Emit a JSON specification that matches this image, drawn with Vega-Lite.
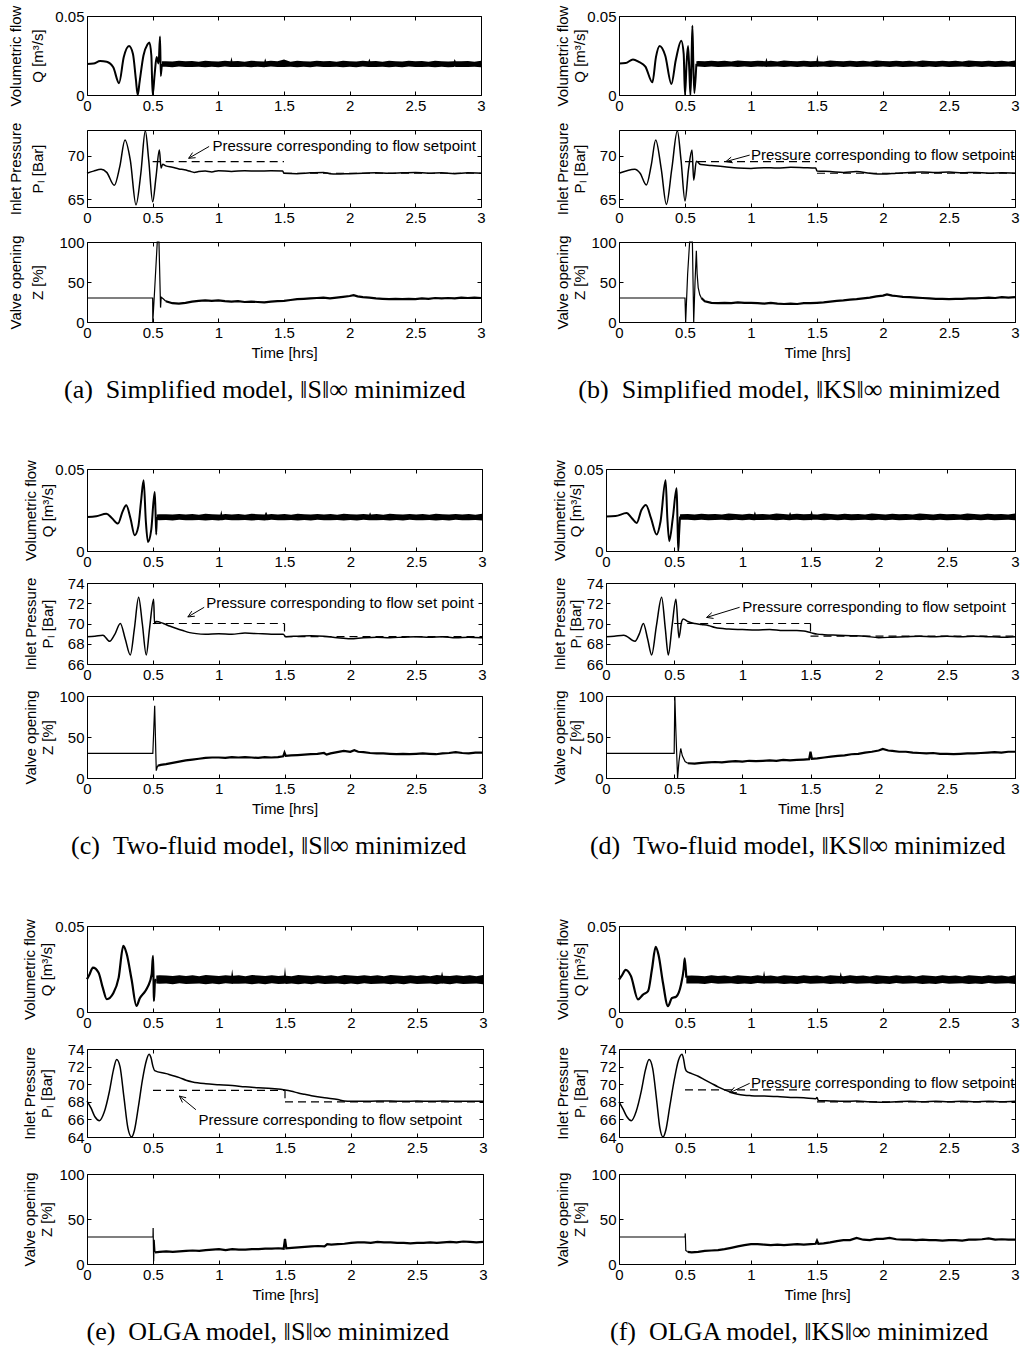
{
"$schema":"https://vega.github.io/schema/vega-lite/v6.json",
"background":"white",
"padding":{"left":7,"top":4,"right":4,"bottom":4},
"data":{"name":"all"},
"config":{
 "view":{"stroke":"black","strokeWidth":1},
 "numberFormat":"~r",
 "axis":{"grid":false,"domain":false,"tickColor":"black","tickSize":-4,"tickWidth":1,"labelFont":"Liberation Sans","labelFontSize":15,"labelColor":"black","labelPadding":7,"labelFlush":false,"labelOverlap":false,"titleFont":"Liberation Sans","titleFontSize":15,"titleFontWeight":"normal","titleColor":"black","titleLineHeight":17,"titlePadding":5},
 "title":{"font":"Liberation Serif","fontSize":26,"fontWeight":"normal","color":"black","orient":"bottom","offset":16,"anchor":"middle"},
 "line":{"color":"black"},
 "area":{"color":"black"},
 "text":{"color":"black","font":"Liberation Sans","fontSize":15}
},
"datasets":{"all":[
{"p":"a1l","t":0,"v":0.0196},{"p":"a1l","t":0.05,"v":0.0199},{"p":"a1l","t":0.1,"v":0.0215},{"p":"a1l","t":0.15,"v":0.021},{"p":"a1l","t":0.2,"v":0.0175},{"p":"a1l","t":0.244,"v":0.0075},{"p":"a1l","t":0.28,"v":0.024},{"p":"a1l","t":0.32,"v":0.031},{"p":"a1l","t":0.35,"v":0.026},{"p":"a1l","t":0.372,"v":0.01},{"p":"a1l","t":0.386,"v":0},{"p":"a1l","t":0.4,"v":0.008},{"p":"a1l","t":0.43,"v":0.025},{"p":"a1l","t":0.46,"v":0.032},{"p":"a1l","t":0.475,"v":0.0333},{"p":"a1l","t":0.49,"v":0.025},{"p":"a1l","t":0.5,"v":0},{"p":"a1l","t":0.515,"v":0.013},{"p":"a1l","t":0.53,"v":0.024},{"p":"a1l","t":0.545,"v":0.02},{"p":"a1l","t":0.556,"v":0.037},{"p":"a1l","t":0.562,"v":0.012},{"p":"a1l","t":0.57,"v":0.0196},
{"p":"a1b","t":0.57,"v":0.0179,"w":0.0213},{"p":"a1b","t":0.6,"v":0.0179,"w":0.0214},{"p":"a1b","t":0.65,"v":0.0176,"w":0.0212},{"p":"a1b","t":0.7,"v":0.018,"w":0.0216},{"p":"a1b","t":0.75,"v":0.0177,"w":0.0213},{"p":"a1b","t":0.8,"v":0.0178,"w":0.0215},{"p":"a1b","t":0.85,"v":0.0179,"w":0.0211},{"p":"a1b","t":0.9,"v":0.0176,"w":0.0217},{"p":"a1b","t":0.95,"v":0.0179,"w":0.0214},{"p":"a1b","t":1.0,"v":0.0176,"w":0.0212},{"p":"a1b","t":1.05,"v":0.018,"w":0.0216},{"p":"a1b","t":1.093,"v":0.0178,"w":0.0213},{"p":"a1b","t":1.1,"v":0.0177,"w":0.024},{"p":"a1b","t":1.107,"v":0.0178,"w":0.0213},{"p":"a1b","t":1.15,"v":0.0178,"w":0.0215},{"p":"a1b","t":1.2,"v":0.0179,"w":0.0211},{"p":"a1b","t":1.25,"v":0.0176,"w":0.0217},{"p":"a1b","t":1.3,"v":0.0179,"w":0.0214},{"p":"a1b","t":1.35,"v":0.0176,"w":0.0212},{"p":"a1b","t":1.357,"v":0.0178,"w":0.0233},{"p":"a1b","t":1.364,"v":0.0178,"w":0.0213},{"p":"a1b","t":1.4,"v":0.018,"w":0.0216},{"p":"a1b","t":1.45,"v":0.0177,"w":0.0213},{"p":"a1b","t":1.5,"v":0.0178,"w":0.0224},{"p":"a1b","t":1.55,"v":0.0179,"w":0.0211},{"p":"a1b","t":1.6,"v":0.0176,"w":0.0217},{"p":"a1b","t":1.65,"v":0.0179,"w":0.0214},{"p":"a1b","t":1.7,"v":0.0176,"w":0.0212},{"p":"a1b","t":1.75,"v":0.018,"w":0.0216},{"p":"a1b","t":1.8,"v":0.0177,"w":0.0213},{"p":"a1b","t":1.85,"v":0.0178,"w":0.0215},{"p":"a1b","t":1.9,"v":0.0179,"w":0.0211},{"p":"a1b","t":1.95,"v":0.0176,"w":0.0217},{"p":"a1b","t":2.0,"v":0.0179,"w":0.0214},{"p":"a1b","t":2.05,"v":0.0176,"w":0.0212},{"p":"a1b","t":2.1,"v":0.018,"w":0.0216},{"p":"a1b","t":2.143,"v":0.0177,"w":0.0213},{"p":"a1b","t":2.15,"v":0.0177,"w":0.0231},{"p":"a1b","t":2.157,"v":0.0178,"w":0.0213},{"p":"a1b","t":2.2,"v":0.0178,"w":0.0215},{"p":"a1b","t":2.25,"v":0.0179,"w":0.0211},{"p":"a1b","t":2.3,"v":0.0176,"w":0.0217},{"p":"a1b","t":2.35,"v":0.0179,"w":0.0214},{"p":"a1b","t":2.4,"v":0.0176,"w":0.0212},{"p":"a1b","t":2.45,"v":0.018,"w":0.0216},{"p":"a1b","t":2.5,"v":0.0177,"w":0.0213},{"p":"a1b","t":2.55,"v":0.0178,"w":0.0215},{"p":"a1b","t":2.6,"v":0.0179,"w":0.0211},{"p":"a1b","t":2.65,"v":0.0176,"w":0.0217},{"p":"a1b","t":2.7,"v":0.0179,"w":0.0214},{"p":"a1b","t":2.75,"v":0.0176,"w":0.0212},{"p":"a1b","t":2.793,"v":0.0178,"w":0.0214},{"p":"a1b","t":2.8,"v":0.018,"w":0.0228},{"p":"a1b","t":2.807,"v":0.0178,"w":0.0213},{"p":"a1b","t":2.85,"v":0.0177,"w":0.0213},{"p":"a1b","t":2.9,"v":0.0178,"w":0.0215},{"p":"a1b","t":2.95,"v":0.0179,"w":0.0211},{"p":"a1b","t":3.0,"v":0.0176,"w":0.0217},
{"p":"a2l","t":0,"v":68.0},{"p":"a2l","t":0.05,"v":68.25},{"p":"a2l","t":0.107,"v":68.46},{"p":"a2l","t":0.15,"v":68.1},{"p":"a2l","t":0.208,"v":66.6},{"p":"a2l","t":0.25,"v":68.8},{"p":"a2l","t":0.289,"v":71.85},{"p":"a2l","t":0.33,"v":69.5},{"p":"a2l","t":0.373,"v":64.35},{"p":"a2l","t":0.41,"v":68.0},{"p":"a2l","t":0.444,"v":72.9},{"p":"a2l","t":0.47,"v":69.5},{"p":"a2l","t":0.5,"v":64.7},{"p":"a2l","t":0.525,"v":67.5},{"p":"a2l","t":0.551,"v":70.7},{"p":"a2l","t":0.564,"v":68.6},{"p":"a2l","t":0.576,"v":69.05},{"p":"a2l","t":0.6,"v":68.85},{"p":"a2l","t":0.65,"v":68.7},{"p":"a2l","t":0.7,"v":68.5},{"p":"a2l","t":0.741,"v":68.4},{"p":"a2l","t":0.78,"v":68.25},{"p":"a2l","t":0.817,"v":68.1},{"p":"a2l","t":0.85,"v":68.2},{"p":"a2l","t":0.9,"v":68.25},{"p":"a2l","t":0.95,"v":68.15},{"p":"a2l","t":1.0,"v":68.3},{"p":"a2l","t":1.1,"v":68.2},{"p":"a2l","t":1.2,"v":68.3},{"p":"a2l","t":1.3,"v":68.25},{"p":"a2l","t":1.4,"v":68.3},{"p":"a2l","t":1.49,"v":68.25},{"p":"a2l","t":1.5,"v":68.0},{"p":"a2l","t":1.6,"v":67.95},{"p":"a2l","t":1.7,"v":68.05},{"p":"a2l","t":1.8,"v":68.1},{"p":"a2l","t":1.85,"v":67.95},{"p":"a2l","t":1.9,"v":67.9},{"p":"a2l","t":2.0,"v":67.95},{"p":"a2l","t":2.1,"v":68.0},{"p":"a2l","t":2.2,"v":68.05},{"p":"a2l","t":2.3,"v":68.0},{"p":"a2l","t":2.4,"v":68.05},{"p":"a2l","t":2.5,"v":68.1},{"p":"a2l","t":2.6,"v":68.0},{"p":"a2l","t":2.7,"v":68.05},{"p":"a2l","t":2.8,"v":67.95},{"p":"a2l","t":2.9,"v":68.05},{"p":"a2l","t":3.0,"v":68.0},
{"p":"a2d","g":1,"t":0.5,"v":69.35},{"p":"a2d","g":1,"t":1.5,"v":69.35},{"p":"a2d","g":2,"t":1.5,"v":68.0},{"p":"a2d","g":2,"t":3,"v":68.0},
{"p":"a2a","g":1,"t":0.774,"v":69.73},{"p":"a2a","g":1,"t":0.93,"v":71.1},{"p":"a2a","g":2,"t":0.774,"v":69.73},{"p":"a2a","g":2,"t":0.804,"v":70.39},{"p":"a2a","g":3,"t":0.774,"v":69.73},{"p":"a2a","g":3,"t":0.827,"v":69.8},
{"p":"a2x","t":0.955,"v":71.1,"s":"Pressure corresponding to flow setpoint"},
{"p":"a3l","t":0,"v":30},{"p":"a3l","t":0.5,"v":30},{"p":"a3l","t":0.501,"v":0},{"p":"a3l","t":0.515,"v":40},{"p":"a3l","t":0.535,"v":100},{"p":"a3l","t":0.548,"v":100},{"p":"a3l","t":0.56,"v":18},{"p":"a3l","t":0.565,"v":31},{"p":"a3l","t":0.58,"v":29},{"p":"a3l","t":0.6,"v":26},
{"p":"a3n","t":0.6,"v":26},{"p":"a3n","t":0.65,"v":23.5},{"p":"a3n","t":0.7,"v":23},{"p":"a3n","t":0.75,"v":24},{"p":"a3n","t":0.8,"v":25.5},{"p":"a3n","t":0.85,"v":26.5},{"p":"a3n","t":0.9,"v":27},{"p":"a3n","t":0.95,"v":26.5},{"p":"a3n","t":1.0,"v":27},{"p":"a3n","t":1.05,"v":26},{"p":"a3n","t":1.1,"v":25.5},{"p":"a3n","t":1.15,"v":26},{"p":"a3n","t":1.2,"v":25},{"p":"a3n","t":1.25,"v":25.5},{"p":"a3n","t":1.3,"v":25},{"p":"a3n","t":1.35,"v":24.5},{"p":"a3n","t":1.4,"v":25.5},{"p":"a3n","t":1.45,"v":26},{"p":"a3n","t":1.5,"v":26.5},{"p":"a3n","t":1.55,"v":27.5},{"p":"a3n","t":1.6,"v":28.5},{"p":"a3n","t":1.65,"v":29},{"p":"a3n","t":1.7,"v":29.5},{"p":"a3n","t":1.75,"v":30},{"p":"a3n","t":1.8,"v":30.5},{"p":"a3n","t":1.85,"v":29.5},{"p":"a3n","t":1.9,"v":30.5},{"p":"a3n","t":1.95,"v":31.5},{"p":"a3n","t":2.0,"v":32.5},{"p":"a3n","t":2.03,"v":33.5},{"p":"a3n","t":2.06,"v":32},{"p":"a3n","t":2.1,"v":31},{"p":"a3n","t":2.15,"v":30.5},{"p":"a3n","t":2.2,"v":29.5},{"p":"a3n","t":2.25,"v":29},{"p":"a3n","t":2.3,"v":28.5},{"p":"a3n","t":2.35,"v":29},{"p":"a3n","t":2.4,"v":28.5},{"p":"a3n","t":2.45,"v":29},{"p":"a3n","t":2.5,"v":28.5},{"p":"a3n","t":2.55,"v":29.5},{"p":"a3n","t":2.6,"v":29},{"p":"a3n","t":2.65,"v":30},{"p":"a3n","t":2.7,"v":29.5},{"p":"a3n","t":2.75,"v":30},{"p":"a3n","t":2.8,"v":29.5},{"p":"a3n","t":2.85,"v":30.5},{"p":"a3n","t":2.9,"v":30},{"p":"a3n","t":2.95,"v":30.5},{"p":"a3n","t":3.0,"v":30},
{"p":"b1l","t":0,"v":0.02},{"p":"b1l","t":0.05,"v":0.0202},{"p":"b1l","t":0.106,"v":0.0225},{"p":"b1l","t":0.15,"v":0.021},{"p":"b1l","t":0.2,"v":0.018},{"p":"b1l","t":0.253,"v":0.008},{"p":"b1l","t":0.28,"v":0.024},{"p":"b1l","t":0.308,"v":0.031},{"p":"b1l","t":0.35,"v":0.025},{"p":"b1l","t":0.397,"v":0.007},{"p":"b1l","t":0.43,"v":0.022},{"p":"b1l","t":0.472,"v":0.0344},{"p":"b1l","t":0.49,"v":0.026},{"p":"b1l","t":0.5,"v":0},{"p":"b1l","t":0.512,"v":0.02},{"p":"b1l","t":0.523,"v":0.031},{"p":"b1l","t":0.533,"v":0.015},{"p":"b1l","t":0.541,"v":0},{"p":"b1l","t":0.549,"v":0.02},{"p":"b1l","t":0.556,"v":0.0439},{"p":"b1l","t":0.563,"v":0.02},{"p":"b1l","t":0.571,"v":0.0013},{"p":"b1l","t":0.586,"v":0.0197},
{"p":"b1b","t":0.586,"v":0.018,"w":0.0214},{"p":"b1b","t":0.6,"v":0.018,"w":0.0215},{"p":"b1b","t":0.65,"v":0.0177,"w":0.0213},{"p":"b1b","t":0.7,"v":0.0181,"w":0.0217},{"p":"b1b","t":0.75,"v":0.0178,"w":0.0214},{"p":"b1b","t":0.8,"v":0.0179,"w":0.0216},{"p":"b1b","t":0.85,"v":0.018,"w":0.0212},{"p":"b1b","t":0.9,"v":0.0177,"w":0.0218},{"p":"b1b","t":0.95,"v":0.018,"w":0.0215},{"p":"b1b","t":1.0,"v":0.0177,"w":0.0213},{"p":"b1b","t":1.05,"v":0.0181,"w":0.0217},{"p":"b1b","t":1.11,"v":0.0179,"w":0.0214},{"p":"b1b","t":1.117,"v":0.0178,"w":0.0236},{"p":"b1b","t":1.124,"v":0.0179,"w":0.0214},{"p":"b1b","t":1.15,"v":0.0179,"w":0.0216},{"p":"b1b","t":1.2,"v":0.018,"w":0.0212},{"p":"b1b","t":1.25,"v":0.0177,"w":0.0218},{"p":"b1b","t":1.3,"v":0.018,"w":0.0215},{"p":"b1b","t":1.35,"v":0.0177,"w":0.0213},{"p":"b1b","t":1.4,"v":0.0181,"w":0.0217},{"p":"b1b","t":1.45,"v":0.0178,"w":0.0214},{"p":"b1b","t":1.496,"v":0.0179,"w":0.0215},{"p":"b1b","t":1.503,"v":0.0178,"w":0.0255},{"p":"b1b","t":1.51,"v":0.0179,"w":0.0214},{"p":"b1b","t":1.55,"v":0.018,"w":0.0212},{"p":"b1b","t":1.6,"v":0.0177,"w":0.0218},{"p":"b1b","t":1.65,"v":0.018,"w":0.0215},{"p":"b1b","t":1.7,"v":0.0177,"w":0.0213},{"p":"b1b","t":1.75,"v":0.0181,"w":0.0217},{"p":"b1b","t":1.8,"v":0.0178,"w":0.0214},{"p":"b1b","t":1.85,"v":0.0179,"w":0.0216},{"p":"b1b","t":1.9,"v":0.018,"w":0.0212},{"p":"b1b","t":1.95,"v":0.0177,"w":0.0218},{"p":"b1b","t":2.0,"v":0.018,"w":0.0215},{"p":"b1b","t":2.05,"v":0.0177,"w":0.0213},{"p":"b1b","t":2.1,"v":0.0181,"w":0.0217},{"p":"b1b","t":2.15,"v":0.0178,"w":0.0214},{"p":"b1b","t":2.2,"v":0.0179,"w":0.0216},{"p":"b1b","t":2.25,"v":0.018,"w":0.0212},{"p":"b1b","t":2.3,"v":0.0177,"w":0.0218},{"p":"b1b","t":2.35,"v":0.018,"w":0.0215},{"p":"b1b","t":2.4,"v":0.0177,"w":0.0213},{"p":"b1b","t":2.45,"v":0.0181,"w":0.0217},{"p":"b1b","t":2.5,"v":0.0178,"w":0.0214},{"p":"b1b","t":2.55,"v":0.0179,"w":0.0216},{"p":"b1b","t":2.6,"v":0.018,"w":0.0212},{"p":"b1b","t":2.65,"v":0.0177,"w":0.0218},{"p":"b1b","t":2.7,"v":0.018,"w":0.0215},{"p":"b1b","t":2.75,"v":0.0177,"w":0.0213},{"p":"b1b","t":2.8,"v":0.0181,"w":0.0217},{"p":"b1b","t":2.85,"v":0.0178,"w":0.0214},{"p":"b1b","t":2.9,"v":0.0179,"w":0.0216},{"p":"b1b","t":2.95,"v":0.018,"w":0.0212},{"p":"b1b","t":3.0,"v":0.0177,"w":0.0218},
{"p":"b2l","t":0,"v":68.0},{"p":"b2l","t":0.06,"v":68.3},{"p":"b2l","t":0.119,"v":68.46},{"p":"b2l","t":0.16,"v":68.0},{"p":"b2l","t":0.207,"v":66.65},{"p":"b2l","t":0.245,"v":69.0},{"p":"b2l","t":0.278,"v":71.85},{"p":"b2l","t":0.32,"v":68.5},{"p":"b2l","t":0.359,"v":64.4},{"p":"b2l","t":0.4,"v":68.5},{"p":"b2l","t":0.442,"v":72.9},{"p":"b2l","t":0.47,"v":69.5},{"p":"b2l","t":0.5,"v":64.8},{"p":"b2l","t":0.527,"v":68.5},{"p":"b2l","t":0.553,"v":70.7},{"p":"b2l","t":0.566,"v":67.2},{"p":"b2l","t":0.586,"v":69.4},{"p":"b2l","t":0.62,"v":69.0},{"p":"b2l","t":0.7,"v":68.9},{"p":"b2l","t":0.8,"v":68.75},{"p":"b2l","t":0.9,"v":68.6},{"p":"b2l","t":1.0,"v":68.55},{"p":"b2l","t":1.1,"v":68.65},{"p":"b2l","t":1.2,"v":68.6},{"p":"b2l","t":1.3,"v":68.7},{"p":"b2l","t":1.4,"v":68.65},{"p":"b2l","t":1.49,"v":68.6},{"p":"b2l","t":1.5,"v":68.25},{"p":"b2l","t":1.6,"v":68.2},{"p":"b2l","t":1.7,"v":68.1},{"p":"b2l","t":1.8,"v":68.2},{"p":"b2l","t":1.9,"v":68.0},{"p":"b2l","t":2.0,"v":67.9},{"p":"b2l","t":2.1,"v":68.0},{"p":"b2l","t":2.2,"v":68.1},{"p":"b2l","t":2.3,"v":68.15},{"p":"b2l","t":2.4,"v":68.1},{"p":"b2l","t":2.5,"v":68.15},{"p":"b2l","t":2.6,"v":68.05},{"p":"b2l","t":2.7,"v":68.1},{"p":"b2l","t":2.8,"v":68.0},{"p":"b2l","t":2.9,"v":68.05},{"p":"b2l","t":3.0,"v":68.0},
{"p":"b2d","g":1,"t":0.5,"v":69.35},{"p":"b2d","g":1,"t":1.5,"v":69.35},{"p":"b2d","g":2,"t":1.5,"v":68.0},{"p":"b2d","g":2,"t":3,"v":68.0},
{"p":"b2a","g":1,"t":0.81,"v":69.35},{"p":"b2a","g":1,"t":0.99,"v":70.1},{"p":"b2a","g":2,"t":0.81,"v":69.35},{"p":"b2a","g":2,"t":0.85,"v":69.87},{"p":"b2a","g":3,"t":0.81,"v":69.35},{"p":"b2a","g":3,"t":0.862,"v":69.21},
{"p":"b2x","t":1.0,"v":70.15,"s":"Pressure corresponding to flow setpoint"},
{"p":"b3l","t":0,"v":30},{"p":"b3l","t":0.5,"v":30},{"p":"b3l","t":0.505,"v":0},{"p":"b3l","t":0.52,"v":60},{"p":"b3l","t":0.535,"v":100},{"p":"b3l","t":0.556,"v":100},{"p":"b3l","t":0.566,"v":0},{"p":"b3l","t":0.576,"v":50},{"p":"b3l","t":0.586,"v":89},{"p":"b3l","t":0.592,"v":60},{"p":"b3l","t":0.6,"v":43},{"p":"b3l","t":0.612,"v":34},{"p":"b3l","t":0.624,"v":30},
{"p":"b3n","t":0.624,"v":30},{"p":"b3n","t":0.65,"v":26},{"p":"b3n","t":0.7,"v":24},{"p":"b3n","t":0.75,"v":23.5},{"p":"b3n","t":0.8,"v":24},{"p":"b3n","t":0.85,"v":23.5},{"p":"b3n","t":0.9,"v":24.5},{"p":"b3n","t":0.95,"v":24},{"p":"b3n","t":1.0,"v":24},{"p":"b3n","t":1.05,"v":23.5},{"p":"b3n","t":1.1,"v":23},{"p":"b3n","t":1.15,"v":24},{"p":"b3n","t":1.2,"v":23},{"p":"b3n","t":1.25,"v":22.5},{"p":"b3n","t":1.3,"v":23},{"p":"b3n","t":1.35,"v":22.5},{"p":"b3n","t":1.4,"v":23.5},{"p":"b3n","t":1.45,"v":23.5},{"p":"b3n","t":1.5,"v":24},{"p":"b3n","t":1.55,"v":24.5},{"p":"b3n","t":1.6,"v":25.5},{"p":"b3n","t":1.65,"v":26.5},{"p":"b3n","t":1.7,"v":27},{"p":"b3n","t":1.75,"v":28},{"p":"b3n","t":1.8,"v":28.5},{"p":"b3n","t":1.85,"v":29.5},{"p":"b3n","t":1.9,"v":30.5},{"p":"b3n","t":1.95,"v":32},{"p":"b3n","t":2.0,"v":33},{"p":"b3n","t":2.03,"v":34.5},{"p":"b3n","t":2.07,"v":33},{"p":"b3n","t":2.1,"v":32.5},{"p":"b3n","t":2.15,"v":31.5},{"p":"b3n","t":2.2,"v":31},{"p":"b3n","t":2.25,"v":30.5},{"p":"b3n","t":2.3,"v":30},{"p":"b3n","t":2.35,"v":29.5},{"p":"b3n","t":2.4,"v":29},{"p":"b3n","t":2.45,"v":29},{"p":"b3n","t":2.5,"v":28.5},{"p":"b3n","t":2.55,"v":29},{"p":"b3n","t":2.6,"v":29},{"p":"b3n","t":2.65,"v":29.5},{"p":"b3n","t":2.7,"v":29.5},{"p":"b3n","t":2.75,"v":30},{"p":"b3n","t":2.8,"v":30.5},{"p":"b3n","t":2.85,"v":30},{"p":"b3n","t":2.9,"v":31},{"p":"b3n","t":2.95,"v":30.5},{"p":"b3n","t":3.0,"v":31},
{"p":"c1l","t":0,"v":0.0207},{"p":"c1l","t":0.07,"v":0.0212},{"p":"c1l","t":0.147,"v":0.0227},{"p":"c1l","t":0.19,"v":0.02},{"p":"c1l","t":0.235,"v":0.0167},{"p":"c1l","t":0.27,"v":0.024},{"p":"c1l","t":0.298,"v":0.0279},{"p":"c1l","t":0.33,"v":0.02},{"p":"c1l","t":0.362,"v":0.0096},{"p":"c1l","t":0.39,"v":0.015},{"p":"c1l","t":0.41,"v":0.03},{"p":"c1l","t":0.43,"v":0.0431},{"p":"c1l","t":0.447,"v":0.018},{"p":"c1l","t":0.463,"v":0.0055},{"p":"c1l","t":0.488,"v":0.013},{"p":"c1l","t":0.514,"v":0.036},{"p":"c1l","t":0.52,"v":0.025},{"p":"c1l","t":0.526,"v":0.01},{"p":"c1l","t":0.53,"v":0.0207},
{"p":"c1b","t":0.53,"v":0.0189,"w":0.0223},{"p":"c1b","t":0.55,"v":0.0188,"w":0.0224},{"p":"c1b","t":0.6,"v":0.0189,"w":0.0224},{"p":"c1b","t":0.65,"v":0.0186,"w":0.0222},{"p":"c1b","t":0.7,"v":0.019,"w":0.0226},{"p":"c1b","t":0.75,"v":0.0187,"w":0.0223},{"p":"c1b","t":0.8,"v":0.0188,"w":0.0225},{"p":"c1b","t":0.85,"v":0.0189,"w":0.0221},{"p":"c1b","t":0.9,"v":0.0186,"w":0.0227},{"p":"c1b","t":0.95,"v":0.0189,"w":0.0224},{"p":"c1b","t":1.0,"v":0.0186,"w":0.0222},{"p":"c1b","t":1.013,"v":0.0188,"w":0.0223},{"p":"c1b","t":1.02,"v":0.0187,"w":0.0248},{"p":"c1b","t":1.027,"v":0.0188,"w":0.0223},{"p":"c1b","t":1.05,"v":0.019,"w":0.0226},{"p":"c1b","t":1.1,"v":0.0187,"w":0.0223},{"p":"c1b","t":1.15,"v":0.0188,"w":0.0225},{"p":"c1b","t":1.2,"v":0.0189,"w":0.0221},{"p":"c1b","t":1.25,"v":0.0186,"w":0.0227},{"p":"c1b","t":1.3,"v":0.0189,"w":0.0224},{"p":"c1b","t":1.35,"v":0.0186,"w":0.0222},{"p":"c1b","t":1.36,"v":0.0187,"w":0.024},{"p":"c1b","t":1.37,"v":0.0188,"w":0.0223},{"p":"c1b","t":1.4,"v":0.019,"w":0.0226},{"p":"c1b","t":1.45,"v":0.0187,"w":0.0223},{"p":"c1b","t":1.5,"v":0.0188,"w":0.0225},{"p":"c1b","t":1.55,"v":0.0189,"w":0.0221},{"p":"c1b","t":1.6,"v":0.0186,"w":0.0227},{"p":"c1b","t":1.65,"v":0.0189,"w":0.0224},{"p":"c1b","t":1.7,"v":0.0186,"w":0.0222},{"p":"c1b","t":1.75,"v":0.019,"w":0.0226},{"p":"c1b","t":1.8,"v":0.0187,"w":0.0223},{"p":"c1b","t":1.85,"v":0.0188,"w":0.0225},{"p":"c1b","t":1.9,"v":0.0189,"w":0.0221},{"p":"c1b","t":1.95,"v":0.0186,"w":0.0227},{"p":"c1b","t":2.0,"v":0.0189,"w":0.0224},{"p":"c1b","t":2.05,"v":0.0186,"w":0.0222},{"p":"c1b","t":2.1,"v":0.019,"w":0.0226},{"p":"c1b","t":2.143,"v":0.0187,"w":0.0223},{"p":"c1b","t":2.15,"v":0.0187,"w":0.0236},{"p":"c1b","t":2.157,"v":0.0188,"w":0.0223},{"p":"c1b","t":2.2,"v":0.0188,"w":0.0225},{"p":"c1b","t":2.25,"v":0.0189,"w":0.0221},{"p":"c1b","t":2.3,"v":0.0186,"w":0.0227},{"p":"c1b","t":2.35,"v":0.0189,"w":0.0224},{"p":"c1b","t":2.4,"v":0.0186,"w":0.0222},{"p":"c1b","t":2.45,"v":0.019,"w":0.0226},{"p":"c1b","t":2.5,"v":0.0187,"w":0.0223},{"p":"c1b","t":2.55,"v":0.0188,"w":0.0225},{"p":"c1b","t":2.6,"v":0.0189,"w":0.0221},{"p":"c1b","t":2.65,"v":0.0186,"w":0.0227},{"p":"c1b","t":2.7,"v":0.0189,"w":0.0224},{"p":"c1b","t":2.75,"v":0.0186,"w":0.0222},{"p":"c1b","t":2.8,"v":0.019,"w":0.0226},{"p":"c1b","t":2.85,"v":0.0187,"w":0.0223},{"p":"c1b","t":2.9,"v":0.0188,"w":0.0225},{"p":"c1b","t":2.95,"v":0.0189,"w":0.0221},{"p":"c1b","t":3.0,"v":0.0186,"w":0.0227},
{"p":"c2l","t":0,"v":68.7},{"p":"c2l","t":0.06,"v":68.75},{"p":"c2l","t":0.121,"v":68.85},{"p":"c2l","t":0.172,"v":68.25},{"p":"c2l","t":0.21,"v":68.9},{"p":"c2l","t":0.253,"v":70.0},{"p":"c2l","t":0.29,"v":68.5},{"p":"c2l","t":0.329,"v":66.9},{"p":"c2l","t":0.36,"v":69.5},{"p":"c2l","t":0.392,"v":72.6},{"p":"c2l","t":0.42,"v":70.0},{"p":"c2l","t":0.45,"v":66.9},{"p":"c2l","t":0.475,"v":69.5},{"p":"c2l","t":0.506,"v":72.4},{"p":"c2l","t":0.513,"v":70.0},{"p":"c2l","t":0.526,"v":70.2},{"p":"c2l","t":0.58,"v":70.0},{"p":"c2l","t":0.627,"v":69.75},{"p":"c2l","t":0.68,"v":69.5},{"p":"c2l","t":0.728,"v":69.3},{"p":"c2l","t":0.78,"v":69.1},{"p":"c2l","t":0.83,"v":69.0},{"p":"c2l","t":0.9,"v":68.95},{"p":"c2l","t":1.0,"v":69.0},{"p":"c2l","t":1.1,"v":68.95},{"p":"c2l","t":1.2,"v":69.05},{"p":"c2l","t":1.3,"v":69.0},{"p":"c2l","t":1.4,"v":68.95},{"p":"c2l","t":1.49,"v":68.95},{"p":"c2l","t":1.51,"v":68.7},{"p":"c2l","t":1.6,"v":68.75},{"p":"c2l","t":1.7,"v":68.8},{"p":"c2l","t":1.8,"v":68.75},{"p":"c2l","t":1.9,"v":68.6},{"p":"c2l","t":2.0,"v":68.5},{"p":"c2l","t":2.1,"v":68.6},{"p":"c2l","t":2.2,"v":68.65},{"p":"c2l","t":2.3,"v":68.6},{"p":"c2l","t":2.4,"v":68.65},{"p":"c2l","t":2.5,"v":68.7},{"p":"c2l","t":2.6,"v":68.65},{"p":"c2l","t":2.7,"v":68.7},{"p":"c2l","t":2.8,"v":68.6},{"p":"c2l","t":2.9,"v":68.65},{"p":"c2l","t":3.0,"v":68.6},
{"p":"c2d","g":1,"t":0.5,"v":70},{"p":"c2d","g":1,"t":1.5,"v":70},{"p":"c2d","g":2,"t":1.5,"v":70},{"p":"c2d","g":2,"t":1.5,"v":68.7},{"p":"c2d","g":3,"t":1.5,"v":68.7},{"p":"c2d","g":3,"t":3,"v":68.7},
{"p":"c2a","g":1,"t":0.766,"v":70.65},{"p":"c2a","g":1,"t":0.89,"v":71.6},{"p":"c2a","g":2,"t":0.766,"v":70.65},{"p":"c2a","g":2,"t":0.796,"v":71.22},{"p":"c2a","g":3,"t":0.766,"v":70.65},{"p":"c2a","g":3,"t":0.819,"v":70.72},
{"p":"c2x","t":0.905,"v":72.0,"s":"Pressure corresponding to flow set point"},
{"p":"c3l","t":0,"v":30},{"p":"c3l","t":0.5,"v":30},{"p":"c3l","t":0.514,"v":88},{"p":"c3l","t":0.526,"v":9},{"p":"c3l","t":0.537,"v":15},
{"p":"c3n","t":0.537,"v":15},{"p":"c3n","t":0.56,"v":16},{"p":"c3n","t":0.6,"v":17},{"p":"c3n","t":0.65,"v":18.5},{"p":"c3n","t":0.7,"v":20},{"p":"c3n","t":0.75,"v":21.5},{"p":"c3n","t":0.8,"v":22.5},{"p":"c3n","t":0.85,"v":23.5},{"p":"c3n","t":0.9,"v":24.5},{"p":"c3n","t":0.95,"v":25},{"p":"c3n","t":1.0,"v":25},{"p":"c3n","t":1.05,"v":24.5},{"p":"c3n","t":1.1,"v":25.5},{"p":"c3n","t":1.15,"v":25},{"p":"c3n","t":1.2,"v":25.5},{"p":"c3n","t":1.25,"v":25},{"p":"c3n","t":1.3,"v":24.5},{"p":"c3n","t":1.35,"v":25.5},{"p":"c3n","t":1.4,"v":25},{"p":"c3n","t":1.45,"v":25.5},{"p":"c3n","t":1.49,"v":26.5},{"p":"c3n","t":1.5,"v":31},{"p":"c3n","t":1.51,"v":27},{"p":"c3n","t":1.55,"v":27.5},{"p":"c3n","t":1.6,"v":28},{"p":"c3n","t":1.65,"v":28.5},{"p":"c3n","t":1.7,"v":29},{"p":"c3n","t":1.75,"v":29.5},{"p":"c3n","t":1.8,"v":30.5},{"p":"c3n","t":1.82,"v":28.5},{"p":"c3n","t":1.85,"v":30},{"p":"c3n","t":1.9,"v":31.5},{"p":"c3n","t":1.95,"v":33},{"p":"c3n","t":2.0,"v":32},{"p":"c3n","t":2.03,"v":34},{"p":"c3n","t":2.06,"v":32},{"p":"c3n","t":2.1,"v":31.5},{"p":"c3n","t":2.15,"v":30.5},{"p":"c3n","t":2.2,"v":30},{"p":"c3n","t":2.25,"v":30},{"p":"c3n","t":2.3,"v":29.5},{"p":"c3n","t":2.35,"v":29},{"p":"c3n","t":2.4,"v":29.5},{"p":"c3n","t":2.45,"v":29},{"p":"c3n","t":2.5,"v":29.5},{"p":"c3n","t":2.55,"v":30},{"p":"c3n","t":2.6,"v":29.5},{"p":"c3n","t":2.65,"v":29},{"p":"c3n","t":2.7,"v":30},{"p":"c3n","t":2.75,"v":30.5},{"p":"c3n","t":2.8,"v":31.5},{"p":"c3n","t":2.85,"v":30.5},{"p":"c3n","t":2.9,"v":30},{"p":"c3n","t":2.95,"v":31},{"p":"c3n","t":3.0,"v":31},
{"p":"d1l","t":0,"v":0.0211},{"p":"d1l","t":0.07,"v":0.0213},{"p":"d1l","t":0.151,"v":0.0231},{"p":"d1l","t":0.19,"v":0.02},{"p":"d1l","t":0.225,"v":0.0171},{"p":"d1l","t":0.26,"v":0.025},{"p":"d1l","t":0.293,"v":0.0281},{"p":"d1l","t":0.33,"v":0.02},{"p":"d1l","t":0.371,"v":0.01},{"p":"d1l","t":0.4,"v":0.018},{"p":"d1l","t":0.437,"v":0.0431},{"p":"d1l","t":0.45,"v":0.02},{"p":"d1l","t":0.464,"v":0.006},{"p":"d1l","t":0.49,"v":0.02},{"p":"d1l","t":0.518,"v":0.0382},{"p":"d1l","t":0.524,"v":0.02},{"p":"d1l","t":0.53,"v":0},{"p":"d1l","t":0.536,"v":0.01},{"p":"d1l","t":0.543,"v":0.021},
{"p":"d1b","t":0.543,"v":0.019,"w":0.0224},{"p":"d1b","t":0.6,"v":0.019,"w":0.0225},{"p":"d1b","t":0.65,"v":0.0187,"w":0.0223},{"p":"d1b","t":0.7,"v":0.0191,"w":0.0227},{"p":"d1b","t":0.75,"v":0.0188,"w":0.0224},{"p":"d1b","t":0.8,"v":0.0189,"w":0.0226},{"p":"d1b","t":0.85,"v":0.019,"w":0.0222},{"p":"d1b","t":0.9,"v":0.0187,"w":0.0228},{"p":"d1b","t":0.95,"v":0.019,"w":0.0225},{"p":"d1b","t":1.0,"v":0.0187,"w":0.0223},{"p":"d1b","t":1.05,"v":0.0191,"w":0.0227},{"p":"d1b","t":1.085,"v":0.0188,"w":0.0224},{"p":"d1b","t":1.092,"v":0.0188,"w":0.0242},{"p":"d1b","t":1.099,"v":0.0189,"w":0.0224},{"p":"d1b","t":1.15,"v":0.0189,"w":0.0226},{"p":"d1b","t":1.2,"v":0.019,"w":0.0222},{"p":"d1b","t":1.25,"v":0.0187,"w":0.0228},{"p":"d1b","t":1.3,"v":0.019,"w":0.0225},{"p":"d1b","t":1.343,"v":0.0187,"w":0.0223},{"p":"d1b","t":1.35,"v":0.0188,"w":0.0238},{"p":"d1b","t":1.357,"v":0.0189,"w":0.0224},{"p":"d1b","t":1.4,"v":0.0191,"w":0.0227},{"p":"d1b","t":1.45,"v":0.0188,"w":0.0224},{"p":"d1b","t":1.501,"v":0.0189,"w":0.0225},{"p":"d1b","t":1.508,"v":0.0188,"w":0.0248},{"p":"d1b","t":1.515,"v":0.019,"w":0.0224},{"p":"d1b","t":1.55,"v":0.019,"w":0.0222},{"p":"d1b","t":1.6,"v":0.0187,"w":0.0228},{"p":"d1b","t":1.65,"v":0.019,"w":0.0225},{"p":"d1b","t":1.7,"v":0.0187,"w":0.0223},{"p":"d1b","t":1.75,"v":0.0191,"w":0.0227},{"p":"d1b","t":1.8,"v":0.0188,"w":0.0224},{"p":"d1b","t":1.85,"v":0.0189,"w":0.0226},{"p":"d1b","t":1.9,"v":0.019,"w":0.0222},{"p":"d1b","t":1.95,"v":0.0187,"w":0.0228},{"p":"d1b","t":2.0,"v":0.019,"w":0.0225},{"p":"d1b","t":2.05,"v":0.0187,"w":0.0223},{"p":"d1b","t":2.1,"v":0.0191,"w":0.0227},{"p":"d1b","t":2.15,"v":0.0188,"w":0.0224},{"p":"d1b","t":2.2,"v":0.0189,"w":0.0226},{"p":"d1b","t":2.25,"v":0.019,"w":0.0222},{"p":"d1b","t":2.3,"v":0.0187,"w":0.0228},{"p":"d1b","t":2.35,"v":0.019,"w":0.0225},{"p":"d1b","t":2.4,"v":0.0187,"w":0.0223},{"p":"d1b","t":2.45,"v":0.0191,"w":0.0227},{"p":"d1b","t":2.5,"v":0.0188,"w":0.0224},{"p":"d1b","t":2.55,"v":0.0189,"w":0.0226},{"p":"d1b","t":2.6,"v":0.019,"w":0.0222},{"p":"d1b","t":2.65,"v":0.0187,"w":0.0228},{"p":"d1b","t":2.7,"v":0.019,"w":0.0225},{"p":"d1b","t":2.75,"v":0.0187,"w":0.0223},{"p":"d1b","t":2.8,"v":0.0191,"w":0.0227},{"p":"d1b","t":2.85,"v":0.0188,"w":0.0224},{"p":"d1b","t":2.9,"v":0.0189,"w":0.0226},{"p":"d1b","t":2.95,"v":0.019,"w":0.0222},{"p":"d1b","t":3.0,"v":0.0187,"w":0.0228},
{"p":"d2l","t":0,"v":68.7},{"p":"d2l","t":0.06,"v":68.75},{"p":"d2l","t":0.13,"v":68.85},{"p":"d2l","t":0.213,"v":68.25},{"p":"d2l","t":0.245,"v":69.0},{"p":"d2l","t":0.274,"v":70.0},{"p":"d2l","t":0.305,"v":68.5},{"p":"d2l","t":0.335,"v":66.9},{"p":"d2l","t":0.37,"v":69.8},{"p":"d2l","t":0.408,"v":72.6},{"p":"d2l","t":0.435,"v":69.5},{"p":"d2l","t":0.457,"v":66.9},{"p":"d2l","t":0.485,"v":69.8},{"p":"d2l","t":0.513,"v":72.4},{"p":"d2l","t":0.535,"v":68.6},{"p":"d2l","t":0.555,"v":70.2},{"p":"d2l","t":0.567,"v":70.45},{"p":"d2l","t":0.6,"v":70.2},{"p":"d2l","t":0.65,"v":70.0},{"p":"d2l","t":0.7,"v":69.9},{"p":"d2l","t":0.75,"v":69.8},{"p":"d2l","t":0.8,"v":69.6},{"p":"d2l","t":0.9,"v":69.45},{"p":"d2l","t":1.0,"v":69.4},{"p":"d2l","t":1.1,"v":69.35},{"p":"d2l","t":1.2,"v":69.4},{"p":"d2l","t":1.3,"v":69.3},{"p":"d2l","t":1.4,"v":69.3},{"p":"d2l","t":1.45,"v":69.25},{"p":"d2l","t":1.5,"v":69.1},{"p":"d2l","t":1.55,"v":68.95},{"p":"d2l","t":1.6,"v":68.9},{"p":"d2l","t":1.7,"v":68.85},{"p":"d2l","t":1.8,"v":68.8},{"p":"d2l","t":1.9,"v":68.75},{"p":"d2l","t":2.0,"v":68.6},{"p":"d2l","t":2.1,"v":68.65},{"p":"d2l","t":2.2,"v":68.7},{"p":"d2l","t":2.3,"v":68.75},{"p":"d2l","t":2.4,"v":68.7},{"p":"d2l","t":2.5,"v":68.75},{"p":"d2l","t":2.6,"v":68.7},{"p":"d2l","t":2.7,"v":68.75},{"p":"d2l","t":2.8,"v":68.7},{"p":"d2l","t":2.9,"v":68.65},{"p":"d2l","t":3.0,"v":68.7},
{"p":"d2d","g":1,"t":0.5,"v":70},{"p":"d2d","g":1,"t":1.5,"v":70},{"p":"d2d","g":2,"t":1.5,"v":70},{"p":"d2d","g":2,"t":1.5,"v":68.75},{"p":"d2d","g":3,"t":1.5,"v":68.75},{"p":"d2d","g":3,"t":3,"v":68.75},
{"p":"d2a","g":1,"t":0.738,"v":70.6},{"p":"d2a","g":1,"t":0.98,"v":71.6},{"p":"d2a","g":2,"t":0.738,"v":70.6},{"p":"d2a","g":2,"t":0.776,"v":71.07},{"p":"d2a","g":3,"t":0.738,"v":70.6},{"p":"d2a","g":3,"t":0.789,"v":70.5},
{"p":"d2x","t":1.0,"v":71.6,"s":"Pressure corresponding to flow setpoint"},
{"p":"d3l","t":0,"v":30},{"p":"d3l","t":0.5,"v":30},{"p":"d3l","t":0.505,"v":100},{"p":"d3l","t":0.512,"v":60},{"p":"d3l","t":0.525,"v":0},{"p":"d3l","t":0.535,"v":20},{"p":"d3l","t":0.548,"v":36},{"p":"d3l","t":0.56,"v":27},{"p":"d3l","t":0.58,"v":20},{"p":"d3l","t":0.6,"v":18},
{"p":"d3n","t":0.6,"v":18},{"p":"d3n","t":0.65,"v":17.5},{"p":"d3n","t":0.7,"v":18.5},{"p":"d3n","t":0.75,"v":19},{"p":"d3n","t":0.8,"v":19.5},{"p":"d3n","t":0.85,"v":19},{"p":"d3n","t":0.9,"v":20},{"p":"d3n","t":0.95,"v":20.5},{"p":"d3n","t":1.0,"v":20},{"p":"d3n","t":1.05,"v":21},{"p":"d3n","t":1.1,"v":20.5},{"p":"d3n","t":1.15,"v":21},{"p":"d3n","t":1.2,"v":21.5},{"p":"d3n","t":1.25,"v":21},{"p":"d3n","t":1.3,"v":22},{"p":"d3n","t":1.35,"v":21.5},{"p":"d3n","t":1.4,"v":22},{"p":"d3n","t":1.45,"v":22.5},{"p":"d3n","t":1.49,"v":23},{"p":"d3n","t":1.5,"v":32},{"p":"d3n","t":1.51,"v":23.5},{"p":"d3n","t":1.55,"v":24},{"p":"d3n","t":1.6,"v":25},{"p":"d3n","t":1.65,"v":26},{"p":"d3n","t":1.7,"v":27},{"p":"d3n","t":1.75,"v":27.5},{"p":"d3n","t":1.8,"v":29},{"p":"d3n","t":1.85,"v":29.5},{"p":"d3n","t":1.9,"v":31},{"p":"d3n","t":1.95,"v":32},{"p":"d3n","t":2.0,"v":33.5},{"p":"d3n","t":2.03,"v":35.5},{"p":"d3n","t":2.07,"v":33.5},{"p":"d3n","t":2.1,"v":33},{"p":"d3n","t":2.15,"v":32},{"p":"d3n","t":2.2,"v":32},{"p":"d3n","t":2.25,"v":31},{"p":"d3n","t":2.3,"v":30.5},{"p":"d3n","t":2.35,"v":30},{"p":"d3n","t":2.4,"v":30.5},{"p":"d3n","t":2.45,"v":29.5},{"p":"d3n","t":2.5,"v":29.5},{"p":"d3n","t":2.55,"v":29},{"p":"d3n","t":2.6,"v":29.5},{"p":"d3n","t":2.65,"v":30},{"p":"d3n","t":2.7,"v":30},{"p":"d3n","t":2.75,"v":30.5},{"p":"d3n","t":2.8,"v":31},{"p":"d3n","t":2.85,"v":31.5},{"p":"d3n","t":2.9,"v":31},{"p":"d3n","t":2.95,"v":32},{"p":"d3n","t":3.0,"v":32},
{"p":"e1l","t":0,"v":0.019},{"p":"e1l","t":0.02,"v":0.022},{"p":"e1l","t":0.045,"v":0.0258},{"p":"e1l","t":0.087,"v":0.023},{"p":"e1l","t":0.12,"v":0.014},{"p":"e1l","t":0.15,"v":0.0074},{"p":"e1l","t":0.2,"v":0.011},{"p":"e1l","t":0.24,"v":0.02},{"p":"e1l","t":0.275,"v":0.0384},{"p":"e1l","t":0.3,"v":0.034},{"p":"e1l","t":0.3375,"v":0.019},{"p":"e1l","t":0.375,"v":0.0035},{"p":"e1l","t":0.4,"v":0.008},{"p":"e1l","t":0.44,"v":0.012},{"p":"e1l","t":0.4625,"v":0.015},{"p":"e1l","t":0.49,"v":0.022},{"p":"e1l","t":0.5,"v":0.0326},{"p":"e1l","t":0.505,"v":0.015},{"p":"e1l","t":0.507,"v":0.0064},{"p":"e1l","t":0.515,"v":0.018},{"p":"e1l","t":0.525,"v":0.019},
{"p":"e1b","t":0.525,"v":0.0165,"w":0.0212},{"p":"e1b","t":0.55,"v":0.0164,"w":0.0213},{"p":"e1b","t":0.6,"v":0.0165,"w":0.0212},{"p":"e1b","t":0.65,"v":0.0162,"w":0.0209},{"p":"e1b","t":0.7,"v":0.0167,"w":0.0214},{"p":"e1b","t":0.75,"v":0.0163,"w":0.021},{"p":"e1b","t":0.8,"v":0.0164,"w":0.0213},{"p":"e1b","t":0.85,"v":0.0166,"w":0.0208},{"p":"e1b","t":0.9,"v":0.0162,"w":0.0215},{"p":"e1b","t":0.95,"v":0.0165,"w":0.0212},{"p":"e1b","t":1.0,"v":0.0162,"w":0.0209},{"p":"e1b","t":1.05,"v":0.0167,"w":0.0214},{"p":"e1b","t":1.093,"v":0.0164,"w":0.0211},{"p":"e1b","t":1.1,"v":0.0163,"w":0.0248},{"p":"e1b","t":1.107,"v":0.0164,"w":0.0211},{"p":"e1b","t":1.15,"v":0.0164,"w":0.0213},{"p":"e1b","t":1.2,"v":0.0166,"w":0.0208},{"p":"e1b","t":1.25,"v":0.0162,"w":0.0215},{"p":"e1b","t":1.3,"v":0.0165,"w":0.0212},{"p":"e1b","t":1.35,"v":0.0162,"w":0.0209},{"p":"e1b","t":1.4,"v":0.0167,"w":0.0214},{"p":"e1b","t":1.45,"v":0.0163,"w":0.021},{"p":"e1b","t":1.493,"v":0.0164,"w":0.0212},{"p":"e1b","t":1.5,"v":0.0165,"w":0.0262},{"p":"e1b","t":1.507,"v":0.0163,"w":0.0211},{"p":"e1b","t":1.55,"v":0.0166,"w":0.0208},{"p":"e1b","t":1.6,"v":0.0162,"w":0.0215},{"p":"e1b","t":1.65,"v":0.0165,"w":0.0212},{"p":"e1b","t":1.7,"v":0.0162,"w":0.0209},{"p":"e1b","t":1.75,"v":0.0167,"w":0.0214},{"p":"e1b","t":1.8,"v":0.0163,"w":0.021},{"p":"e1b","t":1.85,"v":0.0164,"w":0.0213},{"p":"e1b","t":1.9,"v":0.0166,"w":0.0208},{"p":"e1b","t":1.95,"v":0.0162,"w":0.0215},{"p":"e1b","t":2.0,"v":0.0165,"w":0.0212},{"p":"e1b","t":2.05,"v":0.0162,"w":0.0209},{"p":"e1b","t":2.1,"v":0.0167,"w":0.0214},{"p":"e1b","t":2.15,"v":0.0163,"w":0.021},{"p":"e1b","t":2.2,"v":0.0164,"w":0.0213},{"p":"e1b","t":2.25,"v":0.0166,"w":0.0208},{"p":"e1b","t":2.3,"v":0.0162,"w":0.0215},{"p":"e1b","t":2.35,"v":0.0165,"w":0.0212},{"p":"e1b","t":2.4,"v":0.0162,"w":0.0209},{"p":"e1b","t":2.45,"v":0.0167,"w":0.0214},{"p":"e1b","t":2.5,"v":0.0163,"w":0.021},{"p":"e1b","t":2.55,"v":0.0164,"w":0.0213},{"p":"e1b","t":2.6,"v":0.0166,"w":0.0208},{"p":"e1b","t":2.65,"v":0.0162,"w":0.0215},{"p":"e1b","t":2.683,"v":0.0165,"w":0.0212},{"p":"e1b","t":2.69,"v":0.0164,"w":0.0236},{"p":"e1b","t":2.697,"v":0.0165,"w":0.0211},{"p":"e1b","t":2.75,"v":0.0162,"w":0.0209},{"p":"e1b","t":2.8,"v":0.0167,"w":0.0214},{"p":"e1b","t":2.85,"v":0.0163,"w":0.021},{"p":"e1b","t":2.9,"v":0.0164,"w":0.0213},{"p":"e1b","t":2.95,"v":0.0166,"w":0.0208},{"p":"e1b","t":3.0,"v":0.0162,"w":0.0215},
{"p":"e2l","t":0,"v":68.07},{"p":"e2l","t":0.03,"v":67.3},{"p":"e2l","t":0.06,"v":66.3},{"p":"e2l","t":0.095,"v":65.86},{"p":"e2l","t":0.13,"v":66.8},{"p":"e2l","t":0.17,"v":69.2},{"p":"e2l","t":0.2,"v":71.6},{"p":"e2l","t":0.225,"v":72.8},{"p":"e2l","t":0.25,"v":72.0},{"p":"e2l","t":0.28,"v":68.5},{"p":"e2l","t":0.31,"v":65.0},{"p":"e2l","t":0.3375,"v":64.0},{"p":"e2l","t":0.36,"v":64.8},{"p":"e2l","t":0.39,"v":67.5},{"p":"e2l","t":0.42,"v":70.5},{"p":"e2l","t":0.45,"v":72.7},{"p":"e2l","t":0.47,"v":73.4},{"p":"e2l","t":0.485,"v":73.0},{"p":"e2l","t":0.5,"v":72.0},{"p":"e2l","t":0.5125,"v":71.55},{"p":"e2l","t":0.6,"v":71.2},{"p":"e2l","t":0.7,"v":70.75},{"p":"e2l","t":0.75,"v":70.45},{"p":"e2l","t":0.8,"v":70.25},{"p":"e2l","t":0.9,"v":70.05},{"p":"e2l","t":1.0,"v":69.95},{"p":"e2l","t":1.1,"v":69.85},{"p":"e2l","t":1.2,"v":69.7},{"p":"e2l","t":1.3,"v":69.6},{"p":"e2l","t":1.4,"v":69.5},{"p":"e2l","t":1.5,"v":69.35},{"p":"e2l","t":1.55,"v":69.2},{"p":"e2l","t":1.6,"v":69.0},{"p":"e2l","t":1.65,"v":68.85},{"p":"e2l","t":1.7,"v":68.7},{"p":"e2l","t":1.8,"v":68.45},{"p":"e2l","t":1.9,"v":68.25},{"p":"e2l","t":1.95,"v":68.1},{"p":"e2l","t":2.0,"v":68.05},{"p":"e2l","t":2.1,"v":68.05},{"p":"e2l","t":2.2,"v":68.1},{"p":"e2l","t":2.3,"v":68.1},{"p":"e2l","t":2.4,"v":68.05},{"p":"e2l","t":2.5,"v":68.1},{"p":"e2l","t":2.6,"v":68.05},{"p":"e2l","t":2.7,"v":68.1},{"p":"e2l","t":2.8,"v":68.05},{"p":"e2l","t":2.9,"v":68.05},{"p":"e2l","t":3.0,"v":68.05},
{"p":"e2d","g":1,"t":0.5,"v":69.3},{"p":"e2d","g":1,"t":1.5,"v":69.3},{"p":"e2d","g":2,"t":1.5,"v":69.3},{"p":"e2d","g":2,"t":1.5,"v":68.0},{"p":"e2d","g":3,"t":1.5,"v":68.0},{"p":"e2d","g":3,"t":3,"v":68.0},
{"p":"e2a","g":1,"t":0.7,"v":68.65},{"p":"e2a","g":1,"t":0.825,"v":67.1},{"p":"e2a","g":2,"t":0.7,"v":68.65},{"p":"e2a","g":2,"t":0.751,"v":68.46},{"p":"e2a","g":3,"t":0.7,"v":68.65},{"p":"e2a","g":3,"t":0.723,"v":67.92},
{"p":"e2x","t":0.845,"v":65.9,"s":"Pressure corresponding to flow setpoint"},
{"p":"e3l","t":0,"v":30},{"p":"e3l","t":0.5,"v":30},{"p":"e3l","t":0.501,"v":40},{"p":"e3l","t":0.505,"v":3},{"p":"e3l","t":0.509,"v":27},{"p":"e3l","t":0.515,"v":13},
{"p":"e3n","t":0.515,"v":13},{"p":"e3n","t":0.55,"v":13.5},{"p":"e3n","t":0.6,"v":14},{"p":"e3n","t":0.65,"v":13.5},{"p":"e3n","t":0.7,"v":14},{"p":"e3n","t":0.75,"v":14.5},{"p":"e3n","t":0.8,"v":15},{"p":"e3n","t":0.85,"v":14.5},{"p":"e3n","t":0.9,"v":15.5},{"p":"e3n","t":0.95,"v":16},{"p":"e3n","t":1.0,"v":16.5},{"p":"e3n","t":1.05,"v":15.5},{"p":"e3n","t":1.1,"v":16.5},{"p":"e3n","t":1.15,"v":16},{"p":"e3n","t":1.2,"v":16},{"p":"e3n","t":1.25,"v":16.5},{"p":"e3n","t":1.3,"v":16.5},{"p":"e3n","t":1.35,"v":17},{"p":"e3n","t":1.4,"v":17},{"p":"e3n","t":1.45,"v":17.5},{"p":"e3n","t":1.49,"v":17},{"p":"e3n","t":1.5,"v":28},{"p":"e3n","t":1.51,"v":17.5},{"p":"e3n","t":1.55,"v":18},{"p":"e3n","t":1.6,"v":18.5},{"p":"e3n","t":1.65,"v":19},{"p":"e3n","t":1.7,"v":19.5},{"p":"e3n","t":1.75,"v":20},{"p":"e3n","t":1.8,"v":19.5},{"p":"e3n","t":1.82,"v":22},{"p":"e3n","t":1.85,"v":21.5},{"p":"e3n","t":1.9,"v":22},{"p":"e3n","t":1.95,"v":22.5},{"p":"e3n","t":2.0,"v":23.5},{"p":"e3n","t":2.05,"v":24},{"p":"e3n","t":2.1,"v":24},{"p":"e3n","t":2.15,"v":23.5},{"p":"e3n","t":2.2,"v":24.5},{"p":"e3n","t":2.25,"v":24},{"p":"e3n","t":2.3,"v":24},{"p":"e3n","t":2.35,"v":23.5},{"p":"e3n","t":2.4,"v":23.5},{"p":"e3n","t":2.45,"v":23},{"p":"e3n","t":2.5,"v":23.5},{"p":"e3n","t":2.55,"v":23.5},{"p":"e3n","t":2.6,"v":24},{"p":"e3n","t":2.65,"v":23.5},{"p":"e3n","t":2.7,"v":24},{"p":"e3n","t":2.75,"v":24.5},{"p":"e3n","t":2.8,"v":24},{"p":"e3n","t":2.85,"v":25},{"p":"e3n","t":2.9,"v":24.5},{"p":"e3n","t":2.95,"v":24},{"p":"e3n","t":3.0,"v":24.5},
{"p":"f1l","t":0,"v":0.0188},{"p":"f1l","t":0.02,"v":0.021},{"p":"f1l","t":0.051,"v":0.0245},{"p":"f1l","t":0.09,"v":0.021},{"p":"f1l","t":0.144,"v":0.0073},{"p":"f1l","t":0.18,"v":0.01},{"p":"f1l","t":0.22,"v":0.0121},{"p":"f1l","t":0.25,"v":0.025},{"p":"f1l","t":0.278,"v":0.0379},{"p":"f1l","t":0.3,"v":0.033},{"p":"f1l","t":0.333,"v":0.017},{"p":"f1l","t":0.371,"v":0.0034},{"p":"f1l","t":0.4,"v":0.008},{"p":"f1l","t":0.434,"v":0.009},{"p":"f1l","t":0.47,"v":0.016},{"p":"f1l","t":0.49,"v":0.025},{"p":"f1l","t":0.498,"v":0.0312},{"p":"f1l","t":0.51,"v":0.02},
{"p":"f1b","t":0.51,"v":0.0166,"w":0.0211},{"p":"f1b","t":0.55,"v":0.0165,"w":0.0212},{"p":"f1b","t":0.6,"v":0.0166,"w":0.0211},{"p":"f1b","t":0.65,"v":0.0163,"w":0.0208},{"p":"f1b","t":0.7,"v":0.0168,"w":0.0213},{"p":"f1b","t":0.75,"v":0.0164,"w":0.0209},{"p":"f1b","t":0.8,"v":0.0165,"w":0.0212},{"p":"f1b","t":0.85,"v":0.0167,"w":0.0207},{"p":"f1b","t":0.9,"v":0.0163,"w":0.0214},{"p":"f1b","t":0.95,"v":0.0166,"w":0.0211},{"p":"f1b","t":1.0,"v":0.0163,"w":0.0208},{"p":"f1b","t":1.05,"v":0.0168,"w":0.0213},{"p":"f1b","t":1.092,"v":0.0165,"w":0.021},{"p":"f1b","t":1.099,"v":0.0164,"w":0.024},{"p":"f1b","t":1.106,"v":0.0165,"w":0.021},{"p":"f1b","t":1.15,"v":0.0165,"w":0.0212},{"p":"f1b","t":1.2,"v":0.0167,"w":0.0207},{"p":"f1b","t":1.25,"v":0.0163,"w":0.0214},{"p":"f1b","t":1.3,"v":0.0166,"w":0.0211},{"p":"f1b","t":1.35,"v":0.0163,"w":0.0208},{"p":"f1b","t":1.4,"v":0.0168,"w":0.0213},{"p":"f1b","t":1.45,"v":0.0164,"w":0.0209},{"p":"f1b","t":1.5,"v":0.0165,"w":0.0212},{"p":"f1b","t":1.55,"v":0.0167,"w":0.0207},{"p":"f1b","t":1.6,"v":0.0163,"w":0.0214},{"p":"f1b","t":1.65,"v":0.0166,"w":0.0211},{"p":"f1b","t":1.673,"v":0.0165,"w":0.021},{"p":"f1b","t":1.68,"v":0.0164,"w":0.0232},{"p":"f1b","t":1.687,"v":0.0166,"w":0.021},{"p":"f1b","t":1.7,"v":0.0163,"w":0.0208},{"p":"f1b","t":1.75,"v":0.0168,"w":0.0213},{"p":"f1b","t":1.8,"v":0.0164,"w":0.0209},{"p":"f1b","t":1.85,"v":0.0165,"w":0.0212},{"p":"f1b","t":1.9,"v":0.0167,"w":0.0207},{"p":"f1b","t":1.95,"v":0.0163,"w":0.0214},{"p":"f1b","t":2.0,"v":0.0166,"w":0.0211},{"p":"f1b","t":2.05,"v":0.0163,"w":0.0208},{"p":"f1b","t":2.1,"v":0.0168,"w":0.0213},{"p":"f1b","t":2.15,"v":0.0164,"w":0.0209},{"p":"f1b","t":2.2,"v":0.0165,"w":0.0212},{"p":"f1b","t":2.25,"v":0.0167,"w":0.0207},{"p":"f1b","t":2.3,"v":0.0163,"w":0.0214},{"p":"f1b","t":2.35,"v":0.0166,"w":0.0211},{"p":"f1b","t":2.4,"v":0.0163,"w":0.0208},{"p":"f1b","t":2.45,"v":0.0168,"w":0.0213},{"p":"f1b","t":2.5,"v":0.0164,"w":0.0209},{"p":"f1b","t":2.55,"v":0.0165,"w":0.0212},{"p":"f1b","t":2.6,"v":0.0167,"w":0.0207},{"p":"f1b","t":2.65,"v":0.0163,"w":0.0214},{"p":"f1b","t":2.7,"v":0.0166,"w":0.0211},{"p":"f1b","t":2.75,"v":0.0163,"w":0.0208},{"p":"f1b","t":2.8,"v":0.0168,"w":0.0213},{"p":"f1b","t":2.85,"v":0.0164,"w":0.0209},{"p":"f1b","t":2.9,"v":0.0165,"w":0.0212},{"p":"f1b","t":2.95,"v":0.0167,"w":0.0207},{"p":"f1b","t":3.0,"v":0.0163,"w":0.0214},
{"p":"f2l","t":0,"v":68.0},{"p":"f2l","t":0.03,"v":67.2},{"p":"f2l","t":0.06,"v":66.3},{"p":"f2l","t":0.094,"v":65.86},{"p":"f2l","t":0.13,"v":66.9},{"p":"f2l","t":0.17,"v":69.3},{"p":"f2l","t":0.2,"v":71.6},{"p":"f2l","t":0.228,"v":72.8},{"p":"f2l","t":0.255,"v":71.8},{"p":"f2l","t":0.285,"v":68.2},{"p":"f2l","t":0.31,"v":65.0},{"p":"f2l","t":0.333,"v":64.0},{"p":"f2l","t":0.355,"v":64.8},{"p":"f2l","t":0.385,"v":67.5},{"p":"f2l","t":0.42,"v":70.6},{"p":"f2l","t":0.45,"v":72.7},{"p":"f2l","t":0.477,"v":73.4},{"p":"f2l","t":0.49,"v":72.8},{"p":"f2l","t":0.5,"v":71.9},{"p":"f2l","t":0.51,"v":71.5},{"p":"f2l","t":0.55,"v":71.2},{"p":"f2l","t":0.6,"v":70.9},{"p":"f2l","t":0.65,"v":70.5},{"p":"f2l","t":0.7,"v":70.1},{"p":"f2l","t":0.75,"v":69.7},{"p":"f2l","t":0.8,"v":69.35},{"p":"f2l","t":0.85,"v":69.05},{"p":"f2l","t":0.9,"v":68.85},{"p":"f2l","t":0.95,"v":68.75},{"p":"f2l","t":1.0,"v":68.7},{"p":"f2l","t":1.1,"v":68.65},{"p":"f2l","t":1.2,"v":68.6},{"p":"f2l","t":1.3,"v":68.5},{"p":"f2l","t":1.4,"v":68.45},{"p":"f2l","t":1.49,"v":68.35},{"p":"f2l","t":1.5,"v":68.5},{"p":"f2l","t":1.51,"v":68.15},{"p":"f2l","t":1.6,"v":68.1},{"p":"f2l","t":1.7,"v":68.05},{"p":"f2l","t":1.8,"v":68.1},{"p":"f2l","t":1.9,"v":68.0},{"p":"f2l","t":2.0,"v":67.95},{"p":"f2l","t":2.1,"v":68.0},{"p":"f2l","t":2.2,"v":68.05},{"p":"f2l","t":2.3,"v":68.0},{"p":"f2l","t":2.4,"v":68.05},{"p":"f2l","t":2.5,"v":68.0},{"p":"f2l","t":2.6,"v":68.05},{"p":"f2l","t":2.7,"v":68.0},{"p":"f2l","t":2.8,"v":68.05},{"p":"f2l","t":2.9,"v":68.0},{"p":"f2l","t":3.0,"v":68.05},
{"p":"f2d","g":1,"t":0.5,"v":69.35},{"p":"f2d","g":1,"t":1.5,"v":69.35},{"p":"f2d","g":2,"t":1.5,"v":68.0},{"p":"f2d","g":2,"t":3,"v":68.0},
{"p":"f2a","g":1,"t":0.84,"v":69.04},{"p":"f2a","g":1,"t":0.99,"v":70.1},{"p":"f2a","g":2,"t":0.84,"v":69.04},{"p":"f2a","g":2,"t":0.874,"v":69.66},{"p":"f2a","g":3,"t":0.84,"v":69.04},{"p":"f2a","g":3,"t":0.893,"v":69.04},
{"p":"f2x","t":1.0,"v":70.1,"s":"Pressure corresponding to flow setpoint"},
{"p":"f3l","t":0,"v":30},{"p":"f3l","t":0.5,"v":30},{"p":"f3l","t":0.502,"v":34},{"p":"f3l","t":0.506,"v":15},{"p":"f3l","t":0.52,"v":13.5},
{"p":"f3n","t":0.52,"v":13.5},{"p":"f3n","t":0.55,"v":13},{"p":"f3n","t":0.6,"v":13.5},{"p":"f3n","t":0.65,"v":14.5},{"p":"f3n","t":0.7,"v":15},{"p":"f3n","t":0.75,"v":15.5},{"p":"f3n","t":0.8,"v":16.5},{"p":"f3n","t":0.85,"v":18},{"p":"f3n","t":0.9,"v":19.5},{"p":"f3n","t":0.95,"v":21},{"p":"f3n","t":1.0,"v":22},{"p":"f3n","t":1.05,"v":22},{"p":"f3n","t":1.1,"v":21.5},{"p":"f3n","t":1.15,"v":21},{"p":"f3n","t":1.2,"v":21.5},{"p":"f3n","t":1.25,"v":21},{"p":"f3n","t":1.3,"v":21.5},{"p":"f3n","t":1.35,"v":22},{"p":"f3n","t":1.4,"v":21.5},{"p":"f3n","t":1.45,"v":22},{"p":"f3n","t":1.49,"v":22.5},{"p":"f3n","t":1.5,"v":26},{"p":"f3n","t":1.51,"v":22.5},{"p":"f3n","t":1.55,"v":23},{"p":"f3n","t":1.6,"v":24},{"p":"f3n","t":1.65,"v":25.5},{"p":"f3n","t":1.7,"v":26.5},{"p":"f3n","t":1.75,"v":26.5},{"p":"f3n","t":1.8,"v":29},{"p":"f3n","t":1.85,"v":27},{"p":"f3n","t":1.9,"v":26.5},{"p":"f3n","t":1.95,"v":28},{"p":"f3n","t":2.0,"v":28},{"p":"f3n","t":2.05,"v":29},{"p":"f3n","t":2.1,"v":27.5},{"p":"f3n","t":2.15,"v":27},{"p":"f3n","t":2.2,"v":27},{"p":"f3n","t":2.25,"v":26.5},{"p":"f3n","t":2.3,"v":27},{"p":"f3n","t":2.35,"v":26.5},{"p":"f3n","t":2.4,"v":26.5},{"p":"f3n","t":2.45,"v":26},{"p":"f3n","t":2.5,"v":26.5},{"p":"f3n","t":2.55,"v":26.5},{"p":"f3n","t":2.6,"v":26},{"p":"f3n","t":2.65,"v":27},{"p":"f3n","t":2.7,"v":27},{"p":"f3n","t":2.75,"v":27.5},{"p":"f3n","t":2.8,"v":28.5},{"p":"f3n","t":2.85,"v":27},{"p":"f3n","t":2.9,"v":27.5},{"p":"f3n","t":2.95,"v":27},{"p":"f3n","t":3.0,"v":27}
]},
"spacing":56,
"vconcat":[
{"hconcat":[
 {"vconcat":[
  {"width":394,"height":79,"resolve":{"axis":{"x":"independent","y":"independent"}},"encoding":{"x":{"field":"t","type":"quantitative","scale":{"domain":[0,3],"nice":false},"axis":null},"y":{"field":"v","type":"quantitative","scale":{"domain":[0,0.05],"nice":false},"axis":null}},
   "layer":[
    {"transform":[{"filter":"datum.p=='a1l'"}],"mark":{"type":"line","strokeWidth":2,"interpolate":"monotone"},"encoding":{"x":{"field":"t","type":"quantitative","axis":{"values":[0,0.5,1,1.5,2,2.5,3],"title":null}},"y":{"field":"v","type":"quantitative","axis":{"values":[0,0.05],"title":["Volumetric flow","Q [m³/s]"],"titleX":-64,"titleLineHeight":22}}}},
    {"transform":[{"filter":"datum.p=='a1l'"}],"mark":{"type":"line","opacity":0},"encoding":{"x":{"field":"t","type":"quantitative","axis":{"orient":"top","values":[0,0.5,1,1.5,2,2.5,3],"labels":false,"title":null}},"y":{"field":"v","type":"quantitative","axis":{"orient":"right","values":[0,0.05],"labels":false,"title":null}}}},
    {"transform":[{"filter":"datum.p=='a1b'"}],"mark":"area","encoding":{"y2":{"field":"w"}}}]},
  {"width":394,"height":77,"resolve":{"axis":{"x":"independent","y":"independent"}},"encoding":{"x":{"field":"t","type":"quantitative","scale":{"domain":[0,3],"nice":false},"axis":null},"y":{"field":"v","type":"quantitative","scale":{"domain":[64.1,73],"nice":false},"axis":null}},
   "layer":[
    {"transform":[{"filter":"datum.p=='a2l'"}],"mark":{"type":"line","strokeWidth":1.5,"interpolate":"monotone"},"encoding":{"x":{"field":"t","type":"quantitative","axis":{"values":[0,0.5,1,1.5,2,2.5,3],"title":null}},"y":{"field":"v","type":"quantitative","axis":{"values":[65,70],"title":["Inlet Pressure","Pₗ [Bar]"],"titleX":-64,"titleLineHeight":22}}}},
    {"transform":[{"filter":"datum.p=='a2l'"}],"mark":{"type":"line","opacity":0},"encoding":{"x":{"field":"t","type":"quantitative","axis":{"orient":"top","values":[0,0.5,1,1.5,2,2.5,3],"labels":false,"title":null}},"y":{"field":"v","type":"quantitative","axis":{"orient":"right","values":[65,70],"labels":false,"title":null}}}},
    {"transform":[{"filter":"datum.p=='a2d'"}],"mark":{"type":"line","strokeWidth":1.2,"strokeDash":[8,5]},"encoding":{"detail":{"field":"g"}}},
    {"transform":[{"filter":"datum.p=='a2a'"}],"mark":{"type":"line","strokeWidth":1},"encoding":{"detail":{"field":"g"}}},
    {"transform":[{"filter":"datum.p=='a2x'"}],"mark":{"type":"text","align":"left","baseline":"middle"},"encoding":{"text":{"field":"s"}}}]},
  {"width":394,"height":80,"resolve":{"axis":{"x":"independent","y":"independent"}},"encoding":{"x":{"field":"t","type":"quantitative","scale":{"domain":[0,3],"nice":false},"axis":null},"y":{"field":"v","type":"quantitative","scale":{"domain":[0,100],"nice":false},"axis":null}},
   "layer":[
    {"transform":[{"filter":"datum.p=='a3l'"}],"mark":{"type":"line","strokeWidth":1.2},"encoding":{"x":{"field":"t","type":"quantitative","axis":{"values":[0,0.5,1,1.5,2,2.5,3],"title":"Time [hrs]"}},"y":{"field":"v","type":"quantitative","axis":{"values":[0,50,100],"title":["Valve opening","Z [%]"],"titleX":-64,"titleLineHeight":22}}}},
    {"transform":[{"filter":"datum.p=='a3l'"}],"mark":{"type":"line","opacity":0},"encoding":{"x":{"field":"t","type":"quantitative","axis":{"orient":"top","values":[0,0.5,1,1.5,2,2.5,3],"labels":false,"title":null}},"y":{"field":"v","type":"quantitative","axis":{"orient":"right","values":[0,50,100],"labels":false,"title":null}}}},
    {"transform":[{"filter":"datum.p=='a3n'"}],"mark":{"type":"line","strokeWidth":2.2}}]}
 ],"spacing":35,"bounds":"flush","title":{"text":"(a)\u00a0\u00a0Simplified model, ‖S‖∞ minimized","dx":18}},
 {"vconcat":[
  {"width":396,"height":79,"resolve":{"axis":{"x":"independent","y":"independent"}},"encoding":{"x":{"field":"t","type":"quantitative","scale":{"domain":[0,3],"nice":false},"axis":null},"y":{"field":"v","type":"quantitative","scale":{"domain":[0,0.05],"nice":false},"axis":null}},
   "layer":[
    {"transform":[{"filter":"datum.p=='b1l'"}],"mark":{"type":"line","strokeWidth":2,"interpolate":"monotone"},"encoding":{"x":{"field":"t","type":"quantitative","axis":{"values":[0,0.5,1,1.5,2,2.5,3],"title":null}},"y":{"field":"v","type":"quantitative","axis":{"values":[0,0.05],"title":["Volumetric flow","Q [m³/s]"],"titleX":-49}}}},
    {"transform":[{"filter":"datum.p=='b1l'"}],"mark":{"type":"line","opacity":0},"encoding":{"x":{"field":"t","type":"quantitative","axis":{"orient":"top","values":[0,0.5,1,1.5,2,2.5,3],"labels":false,"title":null}},"y":{"field":"v","type":"quantitative","axis":{"orient":"right","values":[0,0.05],"labels":false,"title":null}}}},
    {"transform":[{"filter":"datum.p=='b1b'"}],"mark":"area","encoding":{"y2":{"field":"w"}}}]},
  {"width":396,"height":77,"resolve":{"axis":{"x":"independent","y":"independent"}},"encoding":{"x":{"field":"t","type":"quantitative","scale":{"domain":[0,3],"nice":false},"axis":null},"y":{"field":"v","type":"quantitative","scale":{"domain":[64.1,73],"nice":false},"axis":null}},
   "layer":[
    {"transform":[{"filter":"datum.p=='b2l'"}],"mark":{"type":"line","strokeWidth":1.5,"interpolate":"monotone"},"encoding":{"x":{"field":"t","type":"quantitative","axis":{"values":[0,0.5,1,1.5,2,2.5,3],"title":null}},"y":{"field":"v","type":"quantitative","axis":{"values":[65,70],"title":["Inlet Pressure","Pₗ [Bar]"],"titleX":-49}}}},
    {"transform":[{"filter":"datum.p=='b2l'"}],"mark":{"type":"line","opacity":0},"encoding":{"x":{"field":"t","type":"quantitative","axis":{"orient":"top","values":[0,0.5,1,1.5,2,2.5,3],"labels":false,"title":null}},"y":{"field":"v","type":"quantitative","axis":{"orient":"right","values":[65,70],"labels":false,"title":null}}}},
    {"transform":[{"filter":"datum.p=='b2d'"}],"mark":{"type":"line","strokeWidth":1.2,"strokeDash":[8,5]},"encoding":{"detail":{"field":"g"}}},
    {"transform":[{"filter":"datum.p=='b2a'"}],"mark":{"type":"line","strokeWidth":1},"encoding":{"detail":{"field":"g"}}},
    {"transform":[{"filter":"datum.p=='b2x'"}],"mark":{"type":"text","align":"left","baseline":"middle"},"encoding":{"text":{"field":"s"}}}]},
  {"width":396,"height":80,"resolve":{"axis":{"x":"independent","y":"independent"}},"encoding":{"x":{"field":"t","type":"quantitative","scale":{"domain":[0,3],"nice":false},"axis":null},"y":{"field":"v","type":"quantitative","scale":{"domain":[0,100],"nice":false},"axis":null}},
   "layer":[
    {"transform":[{"filter":"datum.p=='b3l'"}],"mark":{"type":"line","strokeWidth":1.2},"encoding":{"x":{"field":"t","type":"quantitative","axis":{"values":[0,0.5,1,1.5,2,2.5,3],"title":"Time [hrs]"}},"y":{"field":"v","type":"quantitative","axis":{"values":[0,50,100],"title":["Valve opening","Z [%]"],"titleX":-49}}}},
    {"transform":[{"filter":"datum.p=='b3l'"}],"mark":{"type":"line","opacity":0},"encoding":{"x":{"field":"t","type":"quantitative","axis":{"orient":"top","values":[0,0.5,1,1.5,2,2.5,3],"labels":false,"title":null}},"y":{"field":"v","type":"quantitative","axis":{"orient":"right","values":[0,50,100],"labels":false,"title":null}}}},
    {"transform":[{"filter":"datum.p=='b3n'"}],"mark":{"type":"line","strokeWidth":2.2}}]}
 ],"spacing":35,"bounds":"flush","title":{"text":"(b)\u00a0\u00a0Simplified model, ‖KS‖∞ minimized","dx":2}}
],"spacing":68},
{"vconcat":[
{"hconcat":[
 {"vconcat":[
  {"width":395,"height":82,"resolve":{"axis":{"x":"independent","y":"independent"}},"encoding":{"x":{"field":"t","type":"quantitative","scale":{"domain":[0,3],"nice":false},"axis":null},"y":{"field":"v","type":"quantitative","scale":{"domain":[0,0.05],"nice":false},"axis":null}},
   "layer":[
    {"transform":[{"filter":"datum.p=='c1l'"}],"mark":{"type":"line","strokeWidth":2,"interpolate":"monotone"},"encoding":{"x":{"field":"t","type":"quantitative","axis":{"values":[0,0.5,1,1.5,2,2.5,3],"title":null}},"y":{"field":"v","type":"quantitative","axis":{"values":[0,0.05],"title":["Volumetric flow","Q [m³/s]"],"titleX":-49}}}},
    {"transform":[{"filter":"datum.p=='c1l'"}],"mark":{"type":"line","opacity":0},"encoding":{"x":{"field":"t","type":"quantitative","axis":{"orient":"top","values":[0,0.5,1,1.5,2,2.5,3],"labels":false,"title":null}},"y":{"field":"v","type":"quantitative","axis":{"orient":"right","values":[0,0.05],"labels":false,"title":null}}}},
    {"transform":[{"filter":"datum.p=='c1b'"}],"mark":"area","encoding":{"y2":{"field":"w"}}}]},
  {"width":395,"height":81,"resolve":{"axis":{"x":"independent","y":"independent"}},"encoding":{"x":{"field":"t","type":"quantitative","scale":{"domain":[0,3],"nice":false},"axis":null},"y":{"field":"v","type":"quantitative","scale":{"domain":[66,74],"nice":false},"axis":null}},
   "layer":[
    {"transform":[{"filter":"datum.p=='c2l'"}],"mark":{"type":"line","strokeWidth":1.5,"interpolate":"monotone"},"encoding":{"x":{"field":"t","type":"quantitative","axis":{"values":[0,0.5,1,1.5,2,2.5,3],"title":null}},"y":{"field":"v","type":"quantitative","axis":{"values":[66,68,70,72,74],"title":["Inlet Pressure","Pₗ [Bar]"],"titleX":-49}}}},
    {"transform":[{"filter":"datum.p=='c2l'"}],"mark":{"type":"line","opacity":0},"encoding":{"x":{"field":"t","type":"quantitative","axis":{"orient":"top","values":[0,0.5,1,1.5,2,2.5,3],"labels":false,"title":null}},"y":{"field":"v","type":"quantitative","axis":{"orient":"right","values":[66,68,70,72,74],"labels":false,"title":null}}}},
    {"transform":[{"filter":"datum.p=='c2d'"}],"mark":{"type":"line","strokeWidth":1.2,"strokeDash":[8,5]},"encoding":{"detail":{"field":"g"}}},
    {"transform":[{"filter":"datum.p=='c2a'"}],"mark":{"type":"line","strokeWidth":1},"encoding":{"detail":{"field":"g"}}},
    {"transform":[{"filter":"datum.p=='c2x'"}],"mark":{"type":"text","align":"left","baseline":"middle"},"encoding":{"text":{"field":"s"}}}]},
  {"width":395,"height":82,"resolve":{"axis":{"x":"independent","y":"independent"}},"encoding":{"x":{"field":"t","type":"quantitative","scale":{"domain":[0,3],"nice":false},"axis":null},"y":{"field":"v","type":"quantitative","scale":{"domain":[0,100],"nice":false},"axis":null}},
   "layer":[
    {"transform":[{"filter":"datum.p=='c3l'"}],"mark":{"type":"line","strokeWidth":1.2},"encoding":{"x":{"field":"t","type":"quantitative","axis":{"values":[0,0.5,1,1.5,2,2.5,3],"title":"Time [hrs]"}},"y":{"field":"v","type":"quantitative","axis":{"values":[0,50,100],"title":["Valve opening","Z [%]"],"titleX":-49}}}},
    {"transform":[{"filter":"datum.p=='c3l'"}],"mark":{"type":"line","opacity":0},"encoding":{"x":{"field":"t","type":"quantitative","axis":{"orient":"top","values":[0,0.5,1,1.5,2,2.5,3],"labels":false,"title":null}},"y":{"field":"v","type":"quantitative","axis":{"orient":"right","values":[0,50,100],"labels":false,"title":null}}}},
    {"transform":[{"filter":"datum.p=='c3n'"}],"mark":{"type":"line","strokeWidth":2.2}}]}
 ],"spacing":32,"bounds":"flush","title":{"text":"(c)\u00a0\u00a0Two-fluid model, ‖S‖∞ minimized","dx":14}},
 {"vconcat":[
  {"width":409,"height":82,"resolve":{"axis":{"x":"independent","y":"independent"}},"encoding":{"x":{"field":"t","type":"quantitative","scale":{"domain":[0,3],"nice":false},"axis":null},"y":{"field":"v","type":"quantitative","scale":{"domain":[0,0.05],"nice":false},"axis":null}},
   "layer":[
    {"transform":[{"filter":"datum.p=='d1l'"}],"mark":{"type":"line","strokeWidth":2,"interpolate":"monotone"},"encoding":{"x":{"field":"t","type":"quantitative","axis":{"values":[0,0.5,1,1.5,2,2.5,3],"title":null}},"y":{"field":"v","type":"quantitative","axis":{"values":[0,0.05],"title":["Volumetric flow","Q [m³/s]"],"titleX":-39,"titleLineHeight":16}}}},
    {"transform":[{"filter":"datum.p=='d1l'"}],"mark":{"type":"line","opacity":0},"encoding":{"x":{"field":"t","type":"quantitative","axis":{"orient":"top","values":[0,0.5,1,1.5,2,2.5,3],"labels":false,"title":null}},"y":{"field":"v","type":"quantitative","axis":{"orient":"right","values":[0,0.05],"labels":false,"title":null}}}},
    {"transform":[{"filter":"datum.p=='d1b'"}],"mark":"area","encoding":{"y2":{"field":"w"}}}]},
  {"width":409,"height":81,"resolve":{"axis":{"x":"independent","y":"independent"}},"encoding":{"x":{"field":"t","type":"quantitative","scale":{"domain":[0,3],"nice":false},"axis":null},"y":{"field":"v","type":"quantitative","scale":{"domain":[66,74],"nice":false},"axis":null}},
   "layer":[
    {"transform":[{"filter":"datum.p=='d2l'"}],"mark":{"type":"line","strokeWidth":1.5,"interpolate":"monotone"},"encoding":{"x":{"field":"t","type":"quantitative","axis":{"values":[0,0.5,1,1.5,2,2.5,3],"title":null}},"y":{"field":"v","type":"quantitative","axis":{"values":[66,68,70,72,74],"title":["Inlet Pressure","Pₗ [Bar]"],"titleX":-39,"titleLineHeight":16}}}},
    {"transform":[{"filter":"datum.p=='d2l'"}],"mark":{"type":"line","opacity":0},"encoding":{"x":{"field":"t","type":"quantitative","axis":{"orient":"top","values":[0,0.5,1,1.5,2,2.5,3],"labels":false,"title":null}},"y":{"field":"v","type":"quantitative","axis":{"orient":"right","values":[66,68,70,72,74],"labels":false,"title":null}}}},
    {"transform":[{"filter":"datum.p=='d2d'"}],"mark":{"type":"line","strokeWidth":1.2,"strokeDash":[8,5]},"encoding":{"detail":{"field":"g"}}},
    {"transform":[{"filter":"datum.p=='d2a'"}],"mark":{"type":"line","strokeWidth":1},"encoding":{"detail":{"field":"g"}}},
    {"transform":[{"filter":"datum.p=='d2x'"}],"mark":{"type":"text","align":"left","baseline":"middle"},"encoding":{"text":{"field":"s"}}}]},
  {"width":409,"height":82,"resolve":{"axis":{"x":"independent","y":"independent"}},"encoding":{"x":{"field":"t","type":"quantitative","scale":{"domain":[0,3],"nice":false},"axis":null},"y":{"field":"v","type":"quantitative","scale":{"domain":[0,100],"nice":false},"axis":null}},
   "layer":[
    {"transform":[{"filter":"datum.p=='d3l'"}],"mark":{"type":"line","strokeWidth":1.2},"encoding":{"x":{"field":"t","type":"quantitative","axis":{"values":[0,0.5,1,1.5,2,2.5,3],"title":"Time [hrs]"}},"y":{"field":"v","type":"quantitative","axis":{"values":[0,50,100],"title":["Valve opening","Z [%]"],"titleX":-39,"titleLineHeight":16}}}},
    {"transform":[{"filter":"datum.p=='d3l'"}],"mark":{"type":"line","opacity":0},"encoding":{"x":{"field":"t","type":"quantitative","axis":{"orient":"top","values":[0,0.5,1,1.5,2,2.5,3],"labels":false,"title":null}},"y":{"field":"v","type":"quantitative","axis":{"orient":"right","values":[0,50,100],"labels":false,"title":null}}}},
    {"transform":[{"filter":"datum.p=='d3n'"}],"mark":{"type":"line","strokeWidth":2.2}}]}
 ],"spacing":32,"bounds":"flush","title":{"text":"(d)\u00a0\u00a0Two-fluid model, ‖KS‖∞ minimized","dx":12}}
],"spacing":64},
{"hconcat":[
 {"vconcat":[
  {"width":396,"height":86,"resolve":{"axis":{"x":"independent","y":"independent"}},"encoding":{"x":{"field":"t","type":"quantitative","scale":{"domain":[0,3],"nice":false},"axis":null},"y":{"field":"v","type":"quantitative","scale":{"domain":[0,0.05],"nice":false},"axis":null}},
   "layer":[
    {"transform":[{"filter":"datum.p=='e1l'"}],"mark":{"type":"line","strokeWidth":2.2,"interpolate":"monotone"},"encoding":{"x":{"field":"t","type":"quantitative","axis":{"values":[0,0.5,1,1.5,2,2.5,3],"title":null}},"y":{"field":"v","type":"quantitative","axis":{"values":[0,0.05],"title":["Volumetric flow","Q [m³/s]"],"titleX":-50}}}},
    {"transform":[{"filter":"datum.p=='e1l'"}],"mark":{"type":"line","opacity":0},"encoding":{"x":{"field":"t","type":"quantitative","axis":{"orient":"top","values":[0,0.5,1,1.5,2,2.5,3],"labels":false,"title":null}},"y":{"field":"v","type":"quantitative","axis":{"orient":"right","values":[0,0.05],"labels":false,"title":null}}}},
    {"transform":[{"filter":"datum.p=='e1b'"}],"mark":"area","encoding":{"y2":{"field":"w"}}}]},
  {"width":396,"height":88,"resolve":{"axis":{"x":"independent","y":"independent"}},"encoding":{"x":{"field":"t","type":"quantitative","scale":{"domain":[0,3],"nice":false},"axis":null},"y":{"field":"v","type":"quantitative","scale":{"domain":[64,74],"nice":false},"axis":null}},
   "layer":[
    {"transform":[{"filter":"datum.p=='e2l'"}],"mark":{"type":"line","strokeWidth":1.5,"interpolate":"monotone"},"encoding":{"x":{"field":"t","type":"quantitative","axis":{"values":[0,0.5,1,1.5,2,2.5,3],"title":null}},"y":{"field":"v","type":"quantitative","axis":{"values":[64,66,68,70,72,74],"title":["Inlet Pressure","Pₗ [Bar]"],"titleX":-50}}}},
    {"transform":[{"filter":"datum.p=='e2l'"}],"mark":{"type":"line","opacity":0},"encoding":{"x":{"field":"t","type":"quantitative","axis":{"orient":"top","values":[0,0.5,1,1.5,2,2.5,3],"labels":false,"title":null}},"y":{"field":"v","type":"quantitative","axis":{"orient":"right","values":[64,66,68,70,72,74],"labels":false,"title":null}}}},
    {"transform":[{"filter":"datum.p=='e2d'"}],"mark":{"type":"line","strokeWidth":1.2,"strokeDash":[8,5]},"encoding":{"detail":{"field":"g"}}},
    {"transform":[{"filter":"datum.p=='e2a'"}],"mark":{"type":"line","strokeWidth":1},"encoding":{"detail":{"field":"g"}}},
    {"transform":[{"filter":"datum.p=='e2x'"}],"mark":{"type":"text","align":"left","baseline":"middle"},"encoding":{"text":{"field":"s"}}}]},
  {"width":396,"height":90,"resolve":{"axis":{"x":"independent","y":"independent"}},"encoding":{"x":{"field":"t","type":"quantitative","scale":{"domain":[0,3],"nice":false},"axis":null},"y":{"field":"v","type":"quantitative","scale":{"domain":[0,100],"nice":false},"axis":null}},
   "layer":[
    {"transform":[{"filter":"datum.p=='e3l'"}],"mark":{"type":"line","strokeWidth":1.2},"encoding":{"x":{"field":"t","type":"quantitative","axis":{"values":[0,0.5,1,1.5,2,2.5,3],"title":"Time [hrs]"}},"y":{"field":"v","type":"quantitative","axis":{"values":[0,50,100],"title":["Valve opening","Z [%]"],"titleX":-50}}}},
    {"transform":[{"filter":"datum.p=='e3l'"}],"mark":{"type":"line","opacity":0},"encoding":{"x":{"field":"t","type":"quantitative","axis":{"orient":"top","values":[0,0.5,1,1.5,2,2.5,3],"labels":false,"title":null}},"y":{"field":"v","type":"quantitative","axis":{"orient":"right","values":[0,50,100],"labels":false,"title":null}}}},
    {"transform":[{"filter":"datum.p=='e3n'"}],"mark":{"type":"line","strokeWidth":2.2}}]}
 ],"spacing":37,"bounds":"flush","title":{"text":"(e)\u00a0\u00a0OLGA model, ‖S‖∞ minimized","dx":13}},
 {"vconcat":[
  {"width":396,"height":86,"resolve":{"axis":{"x":"independent","y":"independent"}},"encoding":{"x":{"field":"t","type":"quantitative","scale":{"domain":[0,3],"nice":false},"axis":null},"y":{"field":"v","type":"quantitative","scale":{"domain":[0,0.05],"nice":false},"axis":null}},
   "layer":[
    {"transform":[{"filter":"datum.p=='f1l'"}],"mark":{"type":"line","strokeWidth":2.2,"interpolate":"monotone"},"encoding":{"x":{"field":"t","type":"quantitative","axis":{"values":[0,0.5,1,1.5,2,2.5,3],"title":null}},"y":{"field":"v","type":"quantitative","axis":{"values":[0,0.05],"title":["Volumetric flow","Q [m³/s]"],"titleX":-49}}}},
    {"transform":[{"filter":"datum.p=='f1l'"}],"mark":{"type":"line","opacity":0},"encoding":{"x":{"field":"t","type":"quantitative","axis":{"orient":"top","values":[0,0.5,1,1.5,2,2.5,3],"labels":false,"title":null}},"y":{"field":"v","type":"quantitative","axis":{"orient":"right","values":[0,0.05],"labels":false,"title":null}}}},
    {"transform":[{"filter":"datum.p=='f1b'"}],"mark":"area","encoding":{"y2":{"field":"w"}}}]},
  {"width":396,"height":88,"resolve":{"axis":{"x":"independent","y":"independent"}},"encoding":{"x":{"field":"t","type":"quantitative","scale":{"domain":[0,3],"nice":false},"axis":null},"y":{"field":"v","type":"quantitative","scale":{"domain":[64,74],"nice":false},"axis":null}},
   "layer":[
    {"transform":[{"filter":"datum.p=='f2l'"}],"mark":{"type":"line","strokeWidth":1.5,"interpolate":"monotone"},"encoding":{"x":{"field":"t","type":"quantitative","axis":{"values":[0,0.5,1,1.5,2,2.5,3],"title":null}},"y":{"field":"v","type":"quantitative","axis":{"values":[64,66,68,70,72,74],"title":["Inlet Pressure","Pₗ [Bar]"],"titleX":-49}}}},
    {"transform":[{"filter":"datum.p=='f2l'"}],"mark":{"type":"line","opacity":0},"encoding":{"x":{"field":"t","type":"quantitative","axis":{"orient":"top","values":[0,0.5,1,1.5,2,2.5,3],"labels":false,"title":null}},"y":{"field":"v","type":"quantitative","axis":{"orient":"right","values":[64,66,68,70,72,74],"labels":false,"title":null}}}},
    {"transform":[{"filter":"datum.p=='f2d'"}],"mark":{"type":"line","strokeWidth":1.2,"strokeDash":[8,5]},"encoding":{"detail":{"field":"g"}}},
    {"transform":[{"filter":"datum.p=='f2a'"}],"mark":{"type":"line","strokeWidth":1},"encoding":{"detail":{"field":"g"}}},
    {"transform":[{"filter":"datum.p=='f2x'"}],"mark":{"type":"text","align":"left","baseline":"middle"},"encoding":{"text":{"field":"s"}}}]},
  {"width":396,"height":90,"resolve":{"axis":{"x":"independent","y":"independent"}},"encoding":{"x":{"field":"t","type":"quantitative","scale":{"domain":[0,3],"nice":false},"axis":null},"y":{"field":"v","type":"quantitative","scale":{"domain":[0,100],"nice":false},"axis":null}},
   "layer":[
    {"transform":[{"filter":"datum.p=='f3l'"}],"mark":{"type":"line","strokeWidth":1.2},"encoding":{"x":{"field":"t","type":"quantitative","axis":{"values":[0,0.5,1,1.5,2,2.5,3],"title":"Time [hrs]"}},"y":{"field":"v","type":"quantitative","axis":{"values":[0,50,100],"title":["Valve opening","Z [%]"],"titleX":-49}}}},
    {"transform":[{"filter":"datum.p=='f3l'"}],"mark":{"type":"line","opacity":0},"encoding":{"x":{"field":"t","type":"quantitative","axis":{"orient":"top","values":[0,0.5,1,1.5,2,2.5,3],"labels":false,"title":null}},"y":{"field":"v","type":"quantitative","axis":{"orient":"right","values":[0,50,100],"labels":false,"title":null}}}},
    {"transform":[{"filter":"datum.p=='f3n'"}],"mark":{"type":"line","strokeWidth":2.2}}]}
 ],"spacing":37,"bounds":"flush","title":{"text":"(f)\u00a0\u00a0OLGA model, ‖KS‖∞ minimized","dx":12}}
],"spacing":66}
],"spacing":59}
]
}
